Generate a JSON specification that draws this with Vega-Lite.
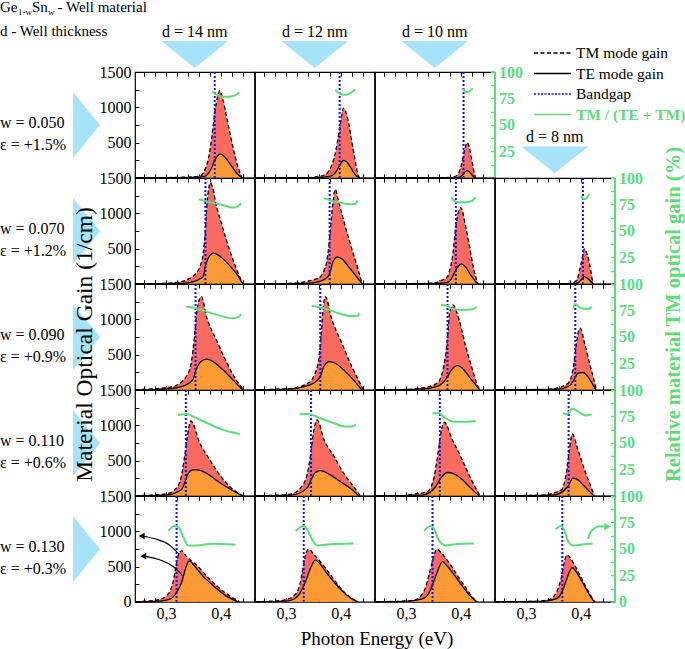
{
"$schema":"https://vega.github.io/schema/vega-lite/v6.json",
"padding":0,
"background":"white",
"config":{
 "font":"Liberation Serif",
 "view":{"stroke":"black","strokeWidth":1.2},
 "text":{"font":"Liberation Serif","color":"black"},
 "axis":{"grid":false,"domain":false,"tickColor":"black","tickWidth":1,"tickSize":-4,"labelPadding":8,"labelFont":"Liberation Serif","labelFontSize":16,"labelColor":"black","labelFlush":false,"labelOverlap":false,"titleFont":"Liberation Serif","titleFontWeight":"normal","titleColor":"black","titleFontSize":19},
 "axisRight":{"domain":true,"domainColor":"#5ddc7b","domainWidth":2,"tickColor":"#5ddc7b","tickWidth":1.5,"labelColor":"#5ddc7b","labelFontWeight":"bold","titleColor":"#5ddc7b","titleFontWeight":"bold"}
},
"datasets":{"c":[
{"w":0.05,"d":14,"k":"TM","e":0.245,"v":0},{"w":0.05,"d":14,"k":"TM","e":0.30,"v":3},{"w":0.05,"d":14,"k":"TM","e":0.33,"v":8},{"w":0.05,"d":14,"k":"TM","e":0.35,"v":15},{"w":0.05,"d":14,"k":"TM","e":0.362,"v":25},{"w":0.05,"d":14,"k":"TM","e":0.371,"v":113},{"w":0.05,"d":14,"k":"TM","e":0.377,"v":255},{"w":0.05,"d":14,"k":"TM","e":0.383,"v":538},{"w":0.05,"d":14,"k":"TM","e":0.389,"v":920},{"w":0.05,"d":14,"k":"TM","e":0.395,"v":1175},{"w":0.05,"d":14,"k":"TM","e":0.398,"v":1235},{"w":0.05,"d":14,"k":"TM","e":0.404,"v":1104},{"w":0.05,"d":14,"k":"TM","e":0.413,"v":774},{"w":0.05,"d":14,"k":"TM","e":0.422,"v":443},{"w":0.05,"d":14,"k":"TM","e":0.431,"v":160},{"w":0.05,"d":14,"k":"TM","e":0.439,"v":0},
{"w":0.05,"d":14,"k":"TE","e":0.245,"v":0},{"w":0.05,"d":14,"k":"TE","e":0.33,"v":2},{"w":0.05,"d":14,"k":"TE","e":0.36,"v":8},{"w":0.05,"d":14,"k":"TE","e":0.371,"v":20},{"w":0.05,"d":14,"k":"TE","e":0.377,"v":60},{"w":0.05,"d":14,"k":"TE","e":0.383,"v":140},{"w":0.05,"d":14,"k":"TE","e":0.389,"v":250},{"w":0.05,"d":14,"k":"TE","e":0.395,"v":320},{"w":0.05,"d":14,"k":"TE","e":0.399,"v":335},{"w":0.05,"d":14,"k":"TE","e":0.404,"v":320},{"w":0.05,"d":14,"k":"TE","e":0.413,"v":240},{"w":0.05,"d":14,"k":"TE","e":0.422,"v":140},{"w":0.05,"d":14,"k":"TE","e":0.431,"v":50},{"w":0.05,"d":14,"k":"TE","e":0.439,"v":0},
{"w":0.05,"d":14,"k":"Eg","e":0.389,"v":0},
{"w":0.05,"d":14,"k":"R","e":0.384,"v":81.5},{"w":0.05,"d":14,"k":"R","e":0.39,"v":79},{"w":0.05,"d":14,"k":"R","e":0.40,"v":77},{"w":0.05,"d":14,"k":"R","e":0.41,"v":76.5},{"w":0.05,"d":14,"k":"R","e":0.42,"v":77},{"w":0.05,"d":14,"k":"R","e":0.43,"v":79},{"w":0.05,"d":14,"k":"R","e":0.434,"v":81},

{"w":0.05,"d":12,"k":"TM","e":0.245,"v":0},{"w":0.05,"d":12,"k":"TM","e":0.33,"v":3},{"w":0.05,"d":12,"k":"TM","e":0.35,"v":8},{"w":0.05,"d":12,"k":"TM","e":0.37,"v":40},{"w":0.05,"d":12,"k":"TM","e":0.38,"v":120},{"w":0.05,"d":12,"k":"TM","e":0.39,"v":350},{"w":0.05,"d":12,"k":"TM","e":0.397,"v":650},{"w":0.05,"d":12,"k":"TM","e":0.402,"v":900},{"w":0.05,"d":12,"k":"TM","e":0.405,"v":986},{"w":0.05,"d":12,"k":"TM","e":0.41,"v":920},{"w":0.05,"d":12,"k":"TM","e":0.415,"v":750},{"w":0.05,"d":12,"k":"TM","e":0.42,"v":520},{"w":0.05,"d":12,"k":"TM","e":0.425,"v":300},{"w":0.05,"d":12,"k":"TM","e":0.43,"v":90},{"w":0.05,"d":12,"k":"TM","e":0.434,"v":0},
{"w":0.05,"d":12,"k":"TE","e":0.245,"v":0},{"w":0.05,"d":12,"k":"TE","e":0.35,"v":2},{"w":0.05,"d":12,"k":"TE","e":0.38,"v":20},{"w":0.05,"d":12,"k":"TE","e":0.39,"v":70},{"w":0.05,"d":12,"k":"TE","e":0.397,"v":160},{"w":0.05,"d":12,"k":"TE","e":0.405,"v":245},{"w":0.05,"d":12,"k":"TE","e":0.41,"v":230},{"w":0.05,"d":12,"k":"TE","e":0.415,"v":180},{"w":0.05,"d":12,"k":"TE","e":0.42,"v":120},{"w":0.05,"d":12,"k":"TE","e":0.425,"v":60},{"w":0.05,"d":12,"k":"TE","e":0.43,"v":15},{"w":0.05,"d":12,"k":"TE","e":0.434,"v":0},
{"w":0.05,"d":12,"k":"Eg","e":0.398,"v":0},
{"w":0.05,"d":12,"k":"R","e":0.39,"v":83},{"w":0.05,"d":12,"k":"R","e":0.397,"v":80},{"w":0.05,"d":12,"k":"R","e":0.405,"v":78.5},{"w":0.05,"d":12,"k":"R","e":0.413,"v":79},{"w":0.05,"d":12,"k":"R","e":0.42,"v":81},{"w":0.05,"d":12,"k":"R","e":0.427,"v":83.5},

{"w":0.05,"d":10,"k":"TM","e":0.245,"v":0},{"w":0.05,"d":10,"k":"TM","e":0.35,"v":2},{"w":0.05,"d":10,"k":"TM","e":0.38,"v":5},{"w":0.05,"d":10,"k":"TM","e":0.39,"v":20},{"w":0.05,"d":10,"k":"TM","e":0.397,"v":80},{"w":0.05,"d":10,"k":"TM","e":0.403,"v":250},{"w":0.05,"d":10,"k":"TM","e":0.408,"v":430},{"w":0.05,"d":10,"k":"TM","e":0.4115,"v":500},{"w":0.05,"d":10,"k":"TM","e":0.415,"v":450},{"w":0.05,"d":10,"k":"TM","e":0.419,"v":300},{"w":0.05,"d":10,"k":"TM","e":0.423,"v":130},{"w":0.05,"d":10,"k":"TM","e":0.427,"v":0},
{"w":0.05,"d":10,"k":"TE","e":0.245,"v":0},{"w":0.05,"d":10,"k":"TE","e":0.39,"v":2},{"w":0.05,"d":10,"k":"TE","e":0.397,"v":5},{"w":0.05,"d":10,"k":"TE","e":0.403,"v":40},{"w":0.05,"d":10,"k":"TE","e":0.408,"v":85},{"w":0.05,"d":10,"k":"TE","e":0.4115,"v":103},{"w":0.05,"d":10,"k":"TE","e":0.415,"v":90},{"w":0.05,"d":10,"k":"TE","e":0.419,"v":55},{"w":0.05,"d":10,"k":"TE","e":0.423,"v":20},{"w":0.05,"d":10,"k":"TE","e":0.427,"v":0},
{"w":0.05,"d":10,"k":"Eg","e":0.405,"v":0},
{"w":0.05,"d":10,"k":"R","e":0.404,"v":84},{"w":0.05,"d":10,"k":"R","e":0.408,"v":81.5},{"w":0.05,"d":10,"k":"R","e":0.413,"v":81},{"w":0.05,"d":10,"k":"R","e":0.418,"v":82.5},{"w":0.05,"d":10,"k":"R","e":0.422,"v":84.5},

{"w":0.07,"d":14,"k":"TM","e":0.245,"v":0},{"w":0.07,"d":14,"k":"TM","e":0.28,"v":3},{"w":0.07,"d":14,"k":"TM","e":0.307,"v":10},{"w":0.07,"d":14,"k":"TM","e":0.33,"v":35},{"w":0.07,"d":14,"k":"TM","e":0.344,"v":80},{"w":0.07,"d":14,"k":"TM","e":0.355,"v":150},{"w":0.07,"d":14,"k":"TM","e":0.362,"v":245},{"w":0.07,"d":14,"k":"TM","e":0.368,"v":434},{"w":0.07,"d":14,"k":"TM","e":0.372,"v":764},{"w":0.07,"d":14,"k":"TM","e":0.375,"v":1142},{"w":0.07,"d":14,"k":"TM","e":0.378,"v":1350},{"w":0.07,"d":14,"k":"TM","e":0.381,"v":1433},{"w":0.07,"d":14,"k":"TM","e":0.385,"v":1370},{"w":0.07,"d":14,"k":"TM","e":0.391,"v":1142},{"w":0.07,"d":14,"k":"TM","e":0.403,"v":811},{"w":0.07,"d":14,"k":"TM","e":0.415,"v":505},{"w":0.07,"d":14,"k":"TM","e":0.428,"v":222},{"w":0.07,"d":14,"k":"TM","e":0.44,"v":0},
{"w":0.07,"d":14,"k":"TE","e":0.245,"v":0},{"w":0.07,"d":14,"k":"TE","e":0.33,"v":5},{"w":0.07,"d":14,"k":"TE","e":0.355,"v":40},{"w":0.07,"d":14,"k":"TE","e":0.362,"v":70},{"w":0.07,"d":14,"k":"TE","e":0.368,"v":103},{"w":0.07,"d":14,"k":"TE","e":0.372,"v":245},{"w":0.07,"d":14,"k":"TE","e":0.377,"v":363},{"w":0.07,"d":14,"k":"TE","e":0.382,"v":415},{"w":0.07,"d":14,"k":"TE","e":0.387,"v":434},{"w":0.07,"d":14,"k":"TE","e":0.395,"v":410},{"w":0.07,"d":14,"k":"TE","e":0.403,"v":363},{"w":0.07,"d":14,"k":"TE","e":0.415,"v":269},{"w":0.07,"d":14,"k":"TE","e":0.428,"v":151},{"w":0.07,"d":14,"k":"TE","e":0.44,"v":0},
{"w":0.07,"d":14,"k":"Eg","e":0.372,"v":0},
{"w":0.07,"d":14,"k":"R","e":0.36,"v":79.9},{"w":0.07,"d":14,"k":"R","e":0.37,"v":78.5},{"w":0.07,"d":14,"k":"R","e":0.378,"v":77.6},{"w":0.07,"d":14,"k":"R","e":0.39,"v":76},{"w":0.07,"d":14,"k":"R","e":0.403,"v":74.5},{"w":0.07,"d":14,"k":"R","e":0.413,"v":73},{"w":0.07,"d":14,"k":"R","e":0.422,"v":72},{"w":0.07,"d":14,"k":"R","e":0.431,"v":73},{"w":0.07,"d":14,"k":"R","e":0.437,"v":76},

{"w":0.07,"d":12,"k":"TM","e":0.245,"v":0},{"w":0.07,"d":12,"k":"TM","e":0.308,"v":5},{"w":0.07,"d":12,"k":"TM","e":0.338,"v":33},{"w":0.07,"d":12,"k":"TM","e":0.352,"v":60},{"w":0.07,"d":12,"k":"TM","e":0.363,"v":103},{"w":0.07,"d":12,"k":"TM","e":0.37,"v":200},{"w":0.07,"d":12,"k":"TM","e":0.375,"v":340},{"w":0.07,"d":12,"k":"TM","e":0.38,"v":670},{"w":0.07,"d":12,"k":"TM","e":0.385,"v":1094},{"w":0.07,"d":12,"k":"TM","e":0.39,"v":1340},{"w":0.07,"d":12,"k":"TM","e":0.395,"v":1200},{"w":0.07,"d":12,"k":"TM","e":0.405,"v":906},{"w":0.07,"d":12,"k":"TM","e":0.417,"v":576},{"w":0.07,"d":12,"k":"TM","e":0.43,"v":245},{"w":0.07,"d":12,"k":"TM","e":0.439,"v":0},
{"w":0.07,"d":12,"k":"TE","e":0.245,"v":0},{"w":0.07,"d":12,"k":"TE","e":0.338,"v":5},{"w":0.07,"d":12,"k":"TE","e":0.36,"v":30},{"w":0.07,"d":12,"k":"TE","e":0.372,"v":70},{"w":0.07,"d":12,"k":"TE","e":0.38,"v":151},{"w":0.07,"d":12,"k":"TE","e":0.386,"v":316},{"w":0.07,"d":12,"k":"TE","e":0.394,"v":378},{"w":0.07,"d":12,"k":"TE","e":0.403,"v":349},{"w":0.07,"d":12,"k":"TE","e":0.414,"v":245},{"w":0.07,"d":12,"k":"TE","e":0.426,"v":127},{"w":0.07,"d":12,"k":"TE","e":0.439,"v":0},
{"w":0.07,"d":12,"k":"Eg","e":0.3797,"v":0},
{"w":0.07,"d":12,"k":"R","e":0.369,"v":80.8},{"w":0.07,"d":12,"k":"R","e":0.38,"v":79},{"w":0.07,"d":12,"k":"R","e":0.39,"v":77.6},{"w":0.07,"d":12,"k":"R","e":0.40,"v":76.5},{"w":0.07,"d":12,"k":"R","e":0.411,"v":75.5},{"w":0.07,"d":12,"k":"R","e":0.423,"v":75.2},{"w":0.07,"d":12,"k":"R","e":0.428,"v":76.5},{"w":0.07,"d":12,"k":"R","e":0.431,"v":78.6},

{"w":0.07,"d":10,"k":"TM","e":0.245,"v":0},{"w":0.07,"d":10,"k":"TM","e":0.33,"v":3},{"w":0.07,"d":10,"k":"TM","e":0.351,"v":10},{"w":0.07,"d":10,"k":"TM","e":0.363,"v":42},{"w":0.07,"d":10,"k":"TM","e":0.376,"v":103},{"w":0.07,"d":10,"k":"TM","e":0.38,"v":200},{"w":0.07,"d":10,"k":"TM","e":0.385,"v":386},{"w":0.07,"d":10,"k":"TM","e":0.391,"v":811},{"w":0.07,"d":10,"k":"TM","e":0.395,"v":1000},{"w":0.07,"d":10,"k":"TM","e":0.40,"v":1080},{"w":0.07,"d":10,"k":"TM","e":0.409,"v":811},{"w":0.07,"d":10,"k":"TM","e":0.417,"v":481},{"w":0.07,"d":10,"k":"TM","e":0.424,"v":198},{"w":0.07,"d":10,"k":"TM","e":0.431,"v":0},
{"w":0.07,"d":10,"k":"TE","e":0.245,"v":0},{"w":0.07,"d":10,"k":"TE","e":0.36,"v":5},{"w":0.07,"d":10,"k":"TE","e":0.376,"v":20},{"w":0.07,"d":10,"k":"TE","e":0.383,"v":70},{"w":0.07,"d":10,"k":"TE","e":0.388,"v":151},{"w":0.07,"d":10,"k":"TE","e":0.395,"v":245},{"w":0.07,"d":10,"k":"TE","e":0.401,"v":283},{"w":0.07,"d":10,"k":"TE","e":0.409,"v":236},{"w":0.07,"d":10,"k":"TE","e":0.418,"v":127},{"w":0.07,"d":10,"k":"TE","e":0.43,"v":0},
{"w":0.07,"d":10,"k":"Eg","e":0.391,"v":0},
{"w":0.07,"d":10,"k":"R","e":0.383,"v":81.8},{"w":0.07,"d":10,"k":"R","e":0.387,"v":79},{"w":0.07,"d":10,"k":"R","e":0.391,"v":77.6},{"w":0.07,"d":10,"k":"R","e":0.40,"v":77},{"w":0.07,"d":10,"k":"R","e":0.406,"v":77},{"w":0.07,"d":10,"k":"R","e":0.415,"v":77.5},{"w":0.07,"d":10,"k":"R","e":0.421,"v":78.3},{"w":0.07,"d":10,"k":"R","e":0.427,"v":81.4},

{"w":0.07,"d":8,"k":"TM","e":0.245,"v":0},{"w":0.07,"d":8,"k":"TM","e":0.37,"v":2},{"w":0.07,"d":8,"k":"TM","e":0.383,"v":10},{"w":0.07,"d":8,"k":"TM","e":0.39,"v":33},{"w":0.07,"d":8,"k":"TM","e":0.395,"v":100},{"w":0.07,"d":8,"k":"TM","e":0.398,"v":198},{"w":0.07,"d":8,"k":"TM","e":0.404,"v":410},{"w":0.07,"d":8,"k":"TM","e":0.4063,"v":495},{"w":0.07,"d":8,"k":"TM","e":0.412,"v":410},{"w":0.07,"d":8,"k":"TM","e":0.418,"v":198},{"w":0.07,"d":8,"k":"TM","e":0.422,"v":0},
{"w":0.07,"d":8,"k":"TE","e":0.245,"v":0},{"w":0.07,"d":8,"k":"TE","e":0.39,"v":3},{"w":0.07,"d":8,"k":"TE","e":0.396,"v":20},{"w":0.07,"d":8,"k":"TE","e":0.401,"v":57},{"w":0.07,"d":8,"k":"TE","e":0.406,"v":103},{"w":0.07,"d":8,"k":"TE","e":0.412,"v":80},{"w":0.07,"d":8,"k":"TE","e":0.42,"v":18},{"w":0.07,"d":8,"k":"TE","e":0.422,"v":0},
{"w":0.07,"d":8,"k":"Eg","e":0.404,"v":0},
{"w":0.07,"d":8,"k":"R","e":0.401,"v":83},{"w":0.07,"d":8,"k":"R","e":0.404,"v":80.5},{"w":0.07,"d":8,"k":"R","e":0.408,"v":80},{"w":0.07,"d":8,"k":"R","e":0.412,"v":82},{"w":0.07,"d":8,"k":"R","e":0.415,"v":85},

{"w":0.09,"d":14,"k":"TM","e":0.245,"v":0},{"w":0.09,"d":14,"k":"TM","e":0.283,"v":18},{"w":0.09,"d":14,"k":"TM","e":0.313,"v":47},{"w":0.09,"d":14,"k":"TM","e":0.337,"v":188},{"w":0.09,"d":14,"k":"TM","e":0.346,"v":377},{"w":0.09,"d":14,"k":"TM","e":0.352,"v":754},{"w":0.09,"d":14,"k":"TM","e":0.356,"v":1085},{"w":0.09,"d":14,"k":"TM","e":0.36,"v":1260},{"w":0.09,"d":14,"k":"TM","e":0.3646,"v":1320},{"w":0.09,"d":14,"k":"TM","e":0.374,"v":1037},{"w":0.09,"d":14,"k":"TM","e":0.392,"v":707},{"w":0.09,"d":14,"k":"TM","e":0.41,"v":400},{"w":0.09,"d":14,"k":"TM","e":0.428,"v":141},{"w":0.09,"d":14,"k":"TM","e":0.442,"v":0},
{"w":0.09,"d":14,"k":"TE","e":0.245,"v":0},{"w":0.09,"d":14,"k":"TE","e":0.30,"v":10},{"w":0.09,"d":14,"k":"TE","e":0.337,"v":70},{"w":0.09,"d":14,"k":"TE","e":0.349,"v":141},{"w":0.09,"d":14,"k":"TE","e":0.355,"v":283},{"w":0.09,"d":14,"k":"TE","e":0.364,"v":400},{"w":0.09,"d":14,"k":"TE","e":0.374,"v":434},{"w":0.09,"d":14,"k":"TE","e":0.386,"v":400},{"w":0.09,"d":14,"k":"TE","e":0.404,"v":283},{"w":0.09,"d":14,"k":"TE","e":0.422,"v":141},{"w":0.09,"d":14,"k":"TE","e":0.44,"v":0},
{"w":0.09,"d":14,"k":"Eg","e":0.354,"v":0},
{"w":0.09,"d":14,"k":"R","e":0.337,"v":78.6},{"w":0.09,"d":14,"k":"R","e":0.355,"v":77.1},{"w":0.09,"d":14,"k":"R","e":0.374,"v":73.9},{"w":0.09,"d":14,"k":"R","e":0.398,"v":70.1},{"w":0.09,"d":14,"k":"R","e":0.422,"v":67.6},{"w":0.09,"d":14,"k":"R","e":0.434,"v":69.2},{"w":0.09,"d":14,"k":"R","e":0.437,"v":71.7},

{"w":0.09,"d":12,"k":"TM","e":0.245,"v":0},{"w":0.09,"d":12,"k":"TM","e":0.26,"v":2},{"w":0.09,"d":12,"k":"TM","e":0.308,"v":18},{"w":0.09,"d":12,"k":"TM","e":0.3436,"v":110},{"w":0.09,"d":12,"k":"TM","e":0.3505,"v":188},{"w":0.09,"d":12,"k":"TM","e":0.3596,"v":424},{"w":0.09,"d":12,"k":"TM","e":0.364,"v":754},{"w":0.09,"d":12,"k":"TM","e":0.3676,"v":1132},{"w":0.09,"d":12,"k":"TM","e":0.3718,"v":1320},{"w":0.09,"d":12,"k":"TM","e":0.384,"v":990},{"w":0.09,"d":12,"k":"TM","e":0.402,"v":660},{"w":0.09,"d":12,"k":"TM","e":0.42,"v":330},{"w":0.09,"d":12,"k":"TM","e":0.432,"v":141},{"w":0.09,"d":12,"k":"TM","e":0.441,"v":0},
{"w":0.09,"d":12,"k":"TE","e":0.245,"v":0},{"w":0.09,"d":12,"k":"TE","e":0.30,"v":8},{"w":0.09,"d":12,"k":"TE","e":0.3436,"v":70},{"w":0.09,"d":12,"k":"TE","e":0.3627,"v":188},{"w":0.09,"d":12,"k":"TE","e":0.369,"v":330},{"w":0.09,"d":12,"k":"TE","e":0.3796,"v":400},{"w":0.09,"d":12,"k":"TE","e":0.39,"v":377},{"w":0.09,"d":12,"k":"TE","e":0.405,"v":283},{"w":0.09,"d":12,"k":"TE","e":0.423,"v":141},{"w":0.09,"d":12,"k":"TE","e":0.438,"v":0},
{"w":0.09,"d":12,"k":"Eg","e":0.3627,"v":0},
{"w":0.09,"d":12,"k":"R","e":0.347,"v":79.2},{"w":0.09,"d":12,"k":"R","e":0.369,"v":77.1},{"w":0.09,"d":12,"k":"R","e":0.393,"v":72.9},{"w":0.09,"d":12,"k":"R","e":0.417,"v":69.8},{"w":0.09,"d":12,"k":"R","e":0.43,"v":69.8},{"w":0.09,"d":12,"k":"R","e":0.434,"v":72.4},

{"w":0.09,"d":10,"k":"TM","e":0.245,"v":0},{"w":0.09,"d":10,"k":"TM","e":0.29,"v":2},{"w":0.09,"d":10,"k":"TM","e":0.327,"v":24},{"w":0.09,"d":10,"k":"TM","e":0.357,"v":94},{"w":0.09,"d":10,"k":"TM","e":0.369,"v":330},{"w":0.09,"d":10,"k":"TM","e":0.376,"v":754},{"w":0.09,"d":10,"k":"TM","e":0.3795,"v":1085},{"w":0.09,"d":10,"k":"TM","e":0.3858,"v":1203},{"w":0.09,"d":10,"k":"TM","e":0.397,"v":990},{"w":0.09,"d":10,"k":"TM","e":0.409,"v":613},{"w":0.09,"d":10,"k":"TM","e":0.4214,"v":283},{"w":0.09,"d":10,"k":"TM","e":0.43,"v":70},{"w":0.09,"d":10,"k":"TM","e":0.435,"v":0},
{"w":0.09,"d":10,"k":"TE","e":0.245,"v":0},{"w":0.09,"d":10,"k":"TE","e":0.33,"v":10},{"w":0.09,"d":10,"k":"TE","e":0.357,"v":47},{"w":0.09,"d":10,"k":"TE","e":0.376,"v":188},{"w":0.09,"d":10,"k":"TE","e":0.383,"v":283},{"w":0.09,"d":10,"k":"TE","e":0.394,"v":344},{"w":0.09,"d":10,"k":"TE","e":0.403,"v":307},{"w":0.09,"d":10,"k":"TE","e":0.415,"v":188},{"w":0.09,"d":10,"k":"TE","e":0.427,"v":70},{"w":0.09,"d":10,"k":"TE","e":0.434,"v":0},
{"w":0.09,"d":10,"k":"Eg","e":0.3758,"v":0},
{"w":0.09,"d":10,"k":"R","e":0.364,"v":80.2},{"w":0.09,"d":10,"k":"R","e":0.376,"v":79.2},{"w":0.09,"d":10,"k":"R","e":0.385,"v":76.1},{"w":0.09,"d":10,"k":"R","e":0.403,"v":75.5},{"w":0.09,"d":10,"k":"R","e":0.4214,"v":76.1},{"w":0.09,"d":10,"k":"R","e":0.429,"v":78.6},

{"w":0.09,"d":8,"k":"TM","e":0.245,"v":0},{"w":0.09,"d":8,"k":"TM","e":0.328,"v":2},{"w":0.09,"d":8,"k":"TM","e":0.3524,"v":18},{"w":0.09,"d":8,"k":"TM","e":0.3767,"v":94},{"w":0.09,"d":8,"k":"TM","e":0.3858,"v":283},{"w":0.09,"d":8,"k":"TM","e":0.3905,"v":566},{"w":0.09,"d":8,"k":"TM","e":0.395,"v":802},{"w":0.09,"d":8,"k":"TM","e":0.399,"v":873},{"w":0.09,"d":8,"k":"TM","e":0.407,"v":660},{"w":0.09,"d":8,"k":"TM","e":0.416,"v":377},{"w":0.09,"d":8,"k":"TM","e":0.424,"v":141},{"w":0.09,"d":8,"k":"TM","e":0.4282,"v":0},
{"w":0.09,"d":8,"k":"TE","e":0.245,"v":0},{"w":0.09,"d":8,"k":"TE","e":0.36,"v":10},{"w":0.09,"d":8,"k":"TE","e":0.38,"v":60},{"w":0.09,"d":8,"k":"TE","e":0.3876,"v":141},{"w":0.09,"d":8,"k":"TE","e":0.395,"v":236},{"w":0.09,"d":8,"k":"TE","e":0.404,"v":245},{"w":0.09,"d":8,"k":"TE","e":0.413,"v":188},{"w":0.09,"d":8,"k":"TE","e":0.4222,"v":70},{"w":0.09,"d":8,"k":"TE","e":0.427,"v":0},
{"w":0.09,"d":8,"k":"Eg","e":0.39,"v":0},
{"w":0.09,"d":8,"k":"R","e":0.386,"v":77},{"w":0.09,"d":8,"k":"R","e":0.39,"v":81},{"w":0.09,"d":8,"k":"R","e":0.395,"v":79},{"w":0.09,"d":8,"k":"R","e":0.405,"v":76.5},{"w":0.09,"d":8,"k":"R","e":0.415,"v":76.5},{"w":0.09,"d":8,"k":"R","e":0.42,"v":78.5},

{"w":0.11,"d":14,"k":"TM","e":0.245,"v":0},{"w":0.11,"d":14,"k":"TM","e":0.271,"v":10},{"w":0.11,"d":14,"k":"TM","e":0.301,"v":28},{"w":0.11,"d":14,"k":"TM","e":0.319,"v":109},{"w":0.11,"d":14,"k":"TM","e":0.328,"v":273},{"w":0.11,"d":14,"k":"TM","e":0.334,"v":556},{"w":0.11,"d":14,"k":"TM","e":0.339,"v":839},{"w":0.11,"d":14,"k":"TM","e":0.3454,"v":1061},{"w":0.11,"d":14,"k":"TM","e":0.362,"v":746},{"w":0.11,"d":14,"k":"TM","e":0.38,"v":509},{"w":0.11,"d":14,"k":"TM","e":0.398,"v":297},{"w":0.11,"d":14,"k":"TM","e":0.416,"v":132},{"w":0.11,"d":14,"k":"TM","e":0.435,"v":24},{"w":0.11,"d":14,"k":"TM","e":0.441,"v":0},
{"w":0.11,"d":14,"k":"TE","e":0.245,"v":0},{"w":0.11,"d":14,"k":"TE","e":0.30,"v":10},{"w":0.11,"d":14,"k":"TE","e":0.328,"v":85},{"w":0.11,"d":14,"k":"TE","e":0.334,"v":180},{"w":0.11,"d":14,"k":"TE","e":0.34,"v":307},{"w":0.11,"d":14,"k":"TE","e":0.349,"v":368},{"w":0.11,"d":14,"k":"TE","e":0.358,"v":368},{"w":0.11,"d":14,"k":"TE","e":0.3736,"v":321},{"w":0.11,"d":14,"k":"TE","e":0.391,"v":226},{"w":0.11,"d":14,"k":"TE","e":0.409,"v":132},{"w":0.11,"d":14,"k":"TE","e":0.428,"v":47},{"w":0.11,"d":14,"k":"TE","e":0.439,"v":0},
{"w":0.11,"d":14,"k":"Eg","e":0.3363,"v":0},
{"w":0.11,"d":14,"k":"R","e":0.322,"v":76.4},{"w":0.11,"d":14,"k":"R","e":0.3375,"v":77.4},{"w":0.11,"d":14,"k":"R","e":0.356,"v":73.3},{"w":0.11,"d":14,"k":"R","e":0.38,"v":67.6},{"w":0.11,"d":14,"k":"R","e":0.4042,"v":62.3},{"w":0.11,"d":14,"k":"R","e":0.42,"v":60},{"w":0.11,"d":14,"k":"R","e":0.435,"v":58.2},

{"w":0.11,"d":12,"k":"TM","e":0.245,"v":0},{"w":0.11,"d":12,"k":"TM","e":0.28,"v":8},{"w":0.11,"d":12,"k":"TM","e":0.308,"v":24},{"w":0.11,"d":12,"k":"TM","e":0.3263,"v":109},{"w":0.11,"d":12,"k":"TM","e":0.3385,"v":297},{"w":0.11,"d":12,"k":"TM","e":0.3445,"v":556},{"w":0.11,"d":12,"k":"TM","e":0.35,"v":887},{"w":0.11,"d":12,"k":"TM","e":0.3567,"v":1075},{"w":0.11,"d":12,"k":"TM","e":0.3697,"v":792},{"w":0.11,"d":12,"k":"TM","e":0.388,"v":556},{"w":0.11,"d":12,"k":"TM","e":0.4051,"v":321},{"w":0.11,"d":12,"k":"TM","e":0.4233,"v":132},{"w":0.11,"d":12,"k":"TM","e":0.4355,"v":0},
{"w":0.11,"d":12,"k":"TE","e":0.245,"v":0},{"w":0.11,"d":12,"k":"TE","e":0.31,"v":10},{"w":0.11,"d":12,"k":"TE","e":0.3385,"v":109},{"w":0.11,"d":12,"k":"TE","e":0.3458,"v":226},{"w":0.11,"d":12,"k":"TE","e":0.3536,"v":330},{"w":0.11,"d":12,"k":"TE","e":0.3627,"v":358},{"w":0.11,"d":12,"k":"TE","e":0.381,"v":297},{"w":0.11,"d":12,"k":"TE","e":0.399,"v":203},{"w":0.11,"d":12,"k":"TE","e":0.417,"v":109},{"w":0.11,"d":12,"k":"TE","e":0.4324,"v":0},
{"w":0.11,"d":12,"k":"Eg","e":0.3458,"v":0},
{"w":0.11,"d":12,"k":"R","e":0.3253,"v":77.1},{"w":0.11,"d":12,"k":"R","e":0.3405,"v":77.4},{"w":0.11,"d":12,"k":"R","e":0.3627,"v":73.3},{"w":0.11,"d":12,"k":"R","e":0.388,"v":68.6},{"w":0.11,"d":12,"k":"R","e":0.4094,"v":65.4},{"w":0.11,"d":12,"k":"R","e":0.4215,"v":65.4},{"w":0.11,"d":12,"k":"R","e":0.4276,"v":67.6},

{"w":0.11,"d":10,"k":"TM","e":0.245,"v":0},{"w":0.11,"d":10,"k":"TM","e":0.29,"v":2},{"w":0.11,"d":10,"k":"TM","e":0.3151,"v":24},{"w":0.11,"d":10,"k":"TM","e":0.3394,"v":61},{"w":0.11,"d":10,"k":"TM","e":0.3514,"v":273},{"w":0.11,"d":10,"k":"TM","e":0.3585,"v":604},{"w":0.11,"d":10,"k":"TM","e":0.3636,"v":887},{"w":0.11,"d":10,"k":"TM","e":0.3698,"v":1043},{"w":0.11,"d":10,"k":"TM","e":0.3849,"v":792},{"w":0.11,"d":10,"k":"TM","e":0.3999,"v":556},{"w":0.11,"d":10,"k":"TM","e":0.4151,"v":297},{"w":0.11,"d":10,"k":"TM","e":0.4272,"v":109},{"w":0.11,"d":10,"k":"TM","e":0.4351,"v":0},
{"w":0.11,"d":10,"k":"TE","e":0.245,"v":0},{"w":0.11,"d":10,"k":"TE","e":0.33,"v":10},{"w":0.11,"d":10,"k":"TE","e":0.3545,"v":132},{"w":0.11,"d":10,"k":"TE","e":0.3636,"v":250},{"w":0.11,"d":10,"k":"TE","e":0.3758,"v":330},{"w":0.11,"d":10,"k":"TE","e":0.3878,"v":311},{"w":0.11,"d":10,"k":"TE","e":0.403,"v":226},{"w":0.11,"d":10,"k":"TE","e":0.4182,"v":109},{"w":0.11,"d":10,"k":"TE","e":0.4333,"v":0},
{"w":0.11,"d":10,"k":"Eg","e":0.3618,"v":0},
{"w":0.11,"d":10,"k":"R","e":0.3485,"v":78},{"w":0.11,"d":10,"k":"R","e":0.3605,"v":78},{"w":0.11,"d":10,"k":"R","e":0.3696,"v":74.2},{"w":0.11,"d":10,"k":"R","e":0.3878,"v":70.1},{"w":0.11,"d":10,"k":"R","e":0.4121,"v":70.1},{"w":0.11,"d":10,"k":"R","e":0.4272,"v":70.8},

{"w":0.11,"d":8,"k":"TM","e":0.245,"v":0},{"w":0.11,"d":8,"k":"TM","e":0.3282,"v":10},{"w":0.11,"d":8,"k":"TM","e":0.3645,"v":85},{"w":0.11,"d":8,"k":"TM","e":0.3736,"v":321},{"w":0.11,"d":8,"k":"TM","e":0.3785,"v":604},{"w":0.11,"d":8,"k":"TM","e":0.3845,"v":877},{"w":0.11,"d":8,"k":"TM","e":0.395,"v":651},{"w":0.11,"d":8,"k":"TM","e":0.4069,"v":368},{"w":0.11,"d":8,"k":"TM","e":0.416,"v":180},{"w":0.11,"d":8,"k":"TM","e":0.4251,"v":0},
{"w":0.11,"d":8,"k":"TE","e":0.245,"v":0},{"w":0.11,"d":8,"k":"TE","e":0.35,"v":10},{"w":0.11,"d":8,"k":"TE","e":0.3767,"v":132},{"w":0.11,"d":8,"k":"TE","e":0.3858,"v":250},{"w":0.11,"d":8,"k":"TE","e":0.395,"v":226},{"w":0.11,"d":8,"k":"TE","e":0.404,"v":156},{"w":0.11,"d":8,"k":"TE","e":0.416,"v":61},{"w":0.11,"d":8,"k":"TE","e":0.4239,"v":0},
{"w":0.11,"d":8,"k":"Eg","e":0.3778,"v":0},
{"w":0.11,"d":8,"k":"R","e":0.3676,"v":78},{"w":0.11,"d":8,"k":"R","e":0.375,"v":77},{"w":0.11,"d":8,"k":"R","e":0.38,"v":80},{"w":0.11,"d":8,"k":"R","e":0.3845,"v":82.5},{"w":0.11,"d":8,"k":"R","e":0.395,"v":79.5},{"w":0.11,"d":8,"k":"R","e":0.41,"v":76},{"w":0.11,"d":8,"k":"R","e":0.42,"v":77},

{"w":0.13,"d":14,"k":"TM","e":0.245,"v":0},{"w":0.13,"d":14,"k":"TM","e":0.26,"v":8},{"w":0.13,"d":14,"k":"TM","e":0.283,"v":24},{"w":0.13,"d":14,"k":"TM","e":0.301,"v":85},{"w":0.13,"d":14,"k":"TM","e":0.312,"v":250},{"w":0.13,"d":14,"k":"TM","e":0.318,"v":485},{"w":0.13,"d":14,"k":"TM","e":0.3222,"v":651},{"w":0.13,"d":14,"k":"TM","e":0.3285,"v":722},{"w":0.13,"d":14,"k":"TM","e":0.3376,"v":640},{"w":0.13,"d":14,"k":"TM","e":0.3558,"v":520},{"w":0.13,"d":14,"k":"TM","e":0.38,"v":320},{"w":0.13,"d":14,"k":"TM","e":0.4042,"v":150},{"w":0.13,"d":14,"k":"TM","e":0.4285,"v":25},{"w":0.13,"d":14,"k":"TM","e":0.4345,"v":0},
{"w":0.13,"d":14,"k":"TE","e":0.245,"v":0},{"w":0.13,"d":14,"k":"TE","e":0.29,"v":10},{"w":0.13,"d":14,"k":"TE","e":0.3073,"v":38},{"w":0.13,"d":14,"k":"TE","e":0.3194,"v":132},{"w":0.13,"d":14,"k":"TE","e":0.3285,"v":273},{"w":0.13,"d":14,"k":"TE","e":0.3364,"v":485},{"w":0.13,"d":14,"k":"TE","e":0.3424,"v":580},{"w":0.13,"d":14,"k":"TE","e":0.3527,"v":500},{"w":0.13,"d":14,"k":"TE","e":0.3679,"v":360},{"w":0.13,"d":14,"k":"TE","e":0.386,"v":230},{"w":0.13,"d":14,"k":"TE","e":0.4103,"v":80},{"w":0.13,"d":14,"k":"TE","e":0.4315,"v":0},
{"w":0.13,"d":14,"k":"Eg","e":0.3194,"v":0},
{"w":0.13,"d":14,"k":"R","e":0.3042,"v":67},{"w":0.13,"d":14,"k":"R","e":0.3164,"v":71.7},{"w":0.13,"d":14,"k":"R","e":0.3224,"v":70.8},{"w":0.13,"d":14,"k":"R","e":0.3315,"v":61.3},{"w":0.13,"d":14,"k":"R","e":0.3406,"v":53.3},{"w":0.13,"d":14,"k":"R","e":0.3558,"v":53.3},{"w":0.13,"d":14,"k":"R","e":0.386,"v":54.9},{"w":0.13,"d":14,"k":"R","e":0.4164,"v":54.3},{"w":0.13,"d":14,"k":"R","e":0.4273,"v":54},
{"w":0.13,"d":14,"k":"A1","e":0.3242,"v":672},{"w":0.13,"d":14,"k":"A1","e":0.3072,"v":800},{"w":0.13,"d":14,"k":"A1","e":0.283,"v":886},{"w":0.13,"d":14,"k":"A1","e":0.2558,"v":933},
{"w":0.13,"d":14,"k":"A2","e":0.3303,"v":372},{"w":0.13,"d":14,"k":"A2","e":0.3133,"v":500},{"w":0.13,"d":14,"k":"A2","e":0.292,"v":586},{"w":0.13,"d":14,"k":"A2","e":0.2588,"v":647},
{"w":0.13,"d":14,"k":"AH","e":0.2558,"v":933},{"w":0.13,"d":14,"k":"AH","e":0.2588,"v":647},

{"w":0.13,"d":12,"k":"TM","e":0.245,"v":0},{"w":0.13,"d":12,"k":"TM","e":0.27,"v":8},{"w":0.13,"d":12,"k":"TM","e":0.296,"v":24},{"w":0.13,"d":12,"k":"TM","e":0.3146,"v":85},{"w":0.13,"d":12,"k":"TM","e":0.3255,"v":250},{"w":0.13,"d":12,"k":"TM","e":0.3312,"v":485},{"w":0.13,"d":12,"k":"TM","e":0.3354,"v":651},{"w":0.13,"d":12,"k":"TM","e":0.3415,"v":745},{"w":0.13,"d":12,"k":"TM","e":0.352,"v":660},{"w":0.13,"d":12,"k":"TM","e":0.37,"v":500},{"w":0.13,"d":12,"k":"TM","e":0.39,"v":290},{"w":0.13,"d":12,"k":"TM","e":0.41,"v":110},{"w":0.13,"d":12,"k":"TM","e":0.425,"v":25},{"w":0.13,"d":12,"k":"TM","e":0.4324,"v":0},
{"w":0.13,"d":12,"k":"TE","e":0.245,"v":0},{"w":0.13,"d":12,"k":"TE","e":0.30,"v":10},{"w":0.13,"d":12,"k":"TE","e":0.315,"v":40},{"w":0.13,"d":12,"k":"TE","e":0.3255,"v":120},{"w":0.13,"d":12,"k":"TE","e":0.3354,"v":280},{"w":0.13,"d":12,"k":"TE","e":0.345,"v":480},{"w":0.13,"d":12,"k":"TE","e":0.3536,"v":590},{"w":0.13,"d":12,"k":"TE","e":0.362,"v":540},{"w":0.13,"d":12,"k":"TE","e":0.375,"v":400},{"w":0.13,"d":12,"k":"TE","e":0.39,"v":260},{"w":0.13,"d":12,"k":"TE","e":0.41,"v":100},{"w":0.13,"d":12,"k":"TE","e":0.425,"v":20},{"w":0.13,"d":12,"k":"TE","e":0.432,"v":0},
{"w":0.13,"d":12,"k":"Eg","e":0.3324,"v":0},
{"w":0.13,"d":12,"k":"R","e":0.3179,"v":67},{"w":0.13,"d":12,"k":"R","e":0.3324,"v":71.7},{"w":0.13,"d":12,"k":"R","e":0.3385,"v":68.6},{"w":0.13,"d":12,"k":"R","e":0.3476,"v":59.2},{"w":0.13,"d":12,"k":"R","e":0.3567,"v":53.3},{"w":0.13,"d":12,"k":"R","e":0.381,"v":54.3},{"w":0.13,"d":12,"k":"R","e":0.4233,"v":55},

{"w":0.13,"d":10,"k":"TM","e":0.245,"v":0},{"w":0.13,"d":10,"k":"TM","e":0.29,"v":8},{"w":0.13,"d":10,"k":"TM","e":0.3151,"v":24},{"w":0.13,"d":10,"k":"TM","e":0.3333,"v":156},{"w":0.13,"d":10,"k":"TM","e":0.3424,"v":392},{"w":0.13,"d":10,"k":"TM","e":0.3485,"v":580},{"w":0.13,"d":10,"k":"TM","e":0.3563,"v":745},{"w":0.13,"d":10,"k":"TM","e":0.366,"v":680},{"w":0.13,"d":10,"k":"TM","e":0.38,"v":540},{"w":0.13,"d":10,"k":"TM","e":0.395,"v":360},{"w":0.13,"d":10,"k":"TM","e":0.41,"v":190},{"w":0.13,"d":10,"k":"TM","e":0.422,"v":60},{"w":0.13,"d":10,"k":"TM","e":0.4303,"v":0},
{"w":0.13,"d":10,"k":"TE","e":0.245,"v":0},{"w":0.13,"d":10,"k":"TE","e":0.30,"v":5},{"w":0.13,"d":10,"k":"TE","e":0.33,"v":40},{"w":0.13,"d":10,"k":"TE","e":0.34,"v":100},{"w":0.13,"d":10,"k":"TE","e":0.349,"v":250},{"w":0.13,"d":10,"k":"TE","e":0.357,"v":420},{"w":0.13,"d":10,"k":"TE","e":0.3667,"v":570},{"w":0.13,"d":10,"k":"TE","e":0.375,"v":510},{"w":0.13,"d":10,"k":"TE","e":0.39,"v":360},{"w":0.13,"d":10,"k":"TE","e":0.405,"v":200},{"w":0.13,"d":10,"k":"TE","e":0.42,"v":60},{"w":0.13,"d":10,"k":"TE","e":0.429,"v":0},
{"w":0.13,"d":10,"k":"Eg","e":0.3485,"v":0},
{"w":0.13,"d":10,"k":"R","e":0.3333,"v":67},{"w":0.13,"d":10,"k":"R","e":0.3454,"v":71.7},{"w":0.13,"d":10,"k":"R","e":0.3514,"v":68.6},{"w":0.13,"d":10,"k":"R","e":0.3605,"v":57.5},{"w":0.13,"d":10,"k":"R","e":0.3727,"v":53.3},{"w":0.13,"d":10,"k":"R","e":0.40,"v":54.9},{"w":0.13,"d":10,"k":"R","e":0.4242,"v":55},

{"w":0.13,"d":8,"k":"TM","e":0.245,"v":0},{"w":0.13,"d":8,"k":"TM","e":0.31,"v":5},{"w":0.13,"d":8,"k":"TM","e":0.3403,"v":24},{"w":0.13,"d":8,"k":"TM","e":0.3554,"v":132},{"w":0.13,"d":8,"k":"TM","e":0.3645,"v":344},{"w":0.13,"d":8,"k":"TM","e":0.3706,"v":580},{"w":0.13,"d":8,"k":"TM","e":0.3748,"v":665},{"w":0.13,"d":8,"k":"TM","e":0.385,"v":570},{"w":0.13,"d":8,"k":"TM","e":0.395,"v":430},{"w":0.13,"d":8,"k":"TM","e":0.405,"v":280},{"w":0.13,"d":8,"k":"TM","e":0.415,"v":130},{"w":0.13,"d":8,"k":"TM","e":0.421,"v":50},{"w":0.13,"d":8,"k":"TM","e":0.4253,"v":0},
{"w":0.13,"d":8,"k":"TE","e":0.245,"v":0},{"w":0.13,"d":8,"k":"TE","e":0.33,"v":5},{"w":0.13,"d":8,"k":"TE","e":0.355,"v":40},{"w":0.13,"d":8,"k":"TE","e":0.365,"v":130},{"w":0.13,"d":8,"k":"TE","e":0.372,"v":270},{"w":0.13,"d":8,"k":"TE","e":0.378,"v":400},{"w":0.13,"d":8,"k":"TE","e":0.3845,"v":485},{"w":0.13,"d":8,"k":"TE","e":0.392,"v":420},{"w":0.13,"d":8,"k":"TE","e":0.402,"v":290},{"w":0.13,"d":8,"k":"TE","e":0.412,"v":150},{"w":0.13,"d":8,"k":"TE","e":0.42,"v":50},{"w":0.13,"d":8,"k":"TE","e":0.425,"v":0},
{"w":0.13,"d":8,"k":"Eg","e":0.3663,"v":0},
{"w":0.13,"d":8,"k":"R","e":0.3542,"v":68.6},{"w":0.13,"d":8,"k":"R","e":0.3645,"v":71.7},{"w":0.13,"d":8,"k":"R","e":0.3706,"v":67},{"w":0.13,"d":8,"k":"R","e":0.3767,"v":57.5},{"w":0.13,"d":8,"k":"R","e":0.3858,"v":53.3},{"w":0.13,"d":8,"k":"R","e":0.4069,"v":54.3},{"w":0.13,"d":8,"k":"R","e":0.422,"v":54.9},
{"w":0.13,"d":8,"k":"GA","e":0.413,"v":59.7},{"w":0.13,"d":8,"k":"GA","e":0.417,"v":65},{"w":0.13,"d":8,"k":"GA","e":0.425,"v":69.5},{"w":0.13,"d":8,"k":"GA","e":0.435,"v":71.5},{"w":0.13,"d":8,"k":"GA","e":0.447,"v":71},
{"w":0.13,"d":8,"k":"GH","e":0.449,"v":71}
]},
"columns":5,"spacing":0,"bounds":"flush","align":"each",
"concat":[
{"width":135,"height":72,"view":{"stroke":null},"data":{"values":[{"a":"Ge","b":"1-w","c":"Sn","s":"w","m":" - Well material","l":"d - Well thickness"}]},"layer":[
 {"mark":{"type":"text","align":"left","baseline":"alphabetic","dx":-67.5,"dy":-24,"fontSize":15},"encoding":{"text":{"field":"a"}}},
 {"mark":{"type":"text","align":"left","baseline":"alphabetic","dx":-49.5,"dy":-21,"fontSize":9},"encoding":{"text":{"field":"b"}}},
 {"mark":{"type":"text","align":"left","baseline":"alphabetic","dx":-35.5,"dy":-24,"fontSize":15},"encoding":{"text":{"field":"c"}}},
 {"mark":{"type":"text","align":"left","baseline":"alphabetic","dx":-19.5,"dy":-21,"fontSize":9},"encoding":{"text":{"field":"s"}}},
 {"mark":{"type":"text","align":"left","baseline":"alphabetic","dx":-10,"dy":-24,"fontSize":15},"encoding":{"text":{"field":"m"}}},
 {"mark":{"type":"text","align":"left","baseline":"alphabetic","dx":-67.5,"dy":0,"fontSize":15},"encoding":{"text":{"field":"l"}}}
]},
{"width":119.5,"height":72,"view":{"stroke":null},"data":{"values":[{"t":"d = 14 nm"}]},"layer":[
 {"mark":{"type":"point","shape":"M -1 -0.4 L 1 -0.4 L 0 0.4 Z","size":4489,"filled":true,"color":"#a6e2f8","opacity":1,"strokeWidth":0,"yOffset":18.5}},
 {"mark":{"type":"text","baseline":"middle","dy":-4,"fontSize":16},"encoding":{"text":{"field":"t"}}}
]},
{"width":119.5,"height":72,"view":{"stroke":null},"data":{"values":[{"t":"d = 12 nm"}]},"layer":[
 {"mark":{"type":"point","shape":"M -1 -0.4 L 1 -0.4 L 0 0.4 Z","size":4489,"filled":true,"color":"#a6e2f8","opacity":1,"strokeWidth":0,"yOffset":18.5}},
 {"mark":{"type":"text","baseline":"middle","dy":-4,"fontSize":16},"encoding":{"text":{"field":"t"}}}
]},
{"width":119.5,"height":72,"view":{"stroke":null},"data":{"values":[{"t":"d = 10 nm"}]},"layer":[
 {"mark":{"type":"point","shape":"M -1 -0.4 L 1 -0.4 L 0 0.4 Z","size":4489,"filled":true,"color":"#a6e2f8","opacity":1,"strokeWidth":0,"yOffset":18.5}},
 {"mark":{"type":"text","baseline":"middle","dy":-4,"fontSize":16},"encoding":{"text":{"field":"t"}}}
]},
{"width":119.5,"height":72,"view":{"stroke":null},"data":{"values":[{"s":"TM mode gain"},{"s":"TE mode gain"},{"s":"Bandgap"},{"s":"TM / (TE + TM)"}]},
 "mark":{"type":"line"},
 "encoding":{
  "color":{"field":"s","type":"nominal","scale":{"domain":["TM mode gain","TE mode gain","Bandgap","TM / (TE + TM)"],"range":["black","black","#1010ff","#5ddc7b"]},"legend":{"orient":"none","legendX":533,"legendY":45,"title":null,"symbolType":"stroke","symbolSize":1370,"symbolStrokeWidth":1.6,"clipHeight":16,"rowPadding":3.5,"labelOffset":4,"padding":0,"labelFont":"Liberation Serif","labelFontSize":15.5,"labelColor":{"expr":"datum.label=='TM / (TE + TM)'?'#5ddc7b':'black'"},"labelFontWeight":{"expr":"datum.label=='TM / (TE + TM)'?'bold':'normal'"}}},
  "strokeDash":{"field":"s","type":"nominal","scale":{"domain":["TM mode gain","TE mode gain","Bandgap","TM / (TE + TM)"],"range":[[4,2.5],[1,0],[2,1.5],[1,0]]},"legend":{"orient":"none","legendX":533,"legendY":45,"title":null,"symbolType":"stroke","symbolSize":1370,"symbolStrokeWidth":1.6,"clipHeight":16,"rowPadding":3.5,"labelOffset":4,"padding":0,"labelFont":"Liberation Serif","labelFontSize":15.5,"labelColor":{"expr":"datum.label=='TM / (TE + TM)'?'#5ddc7b':'black'"},"labelFontWeight":{"expr":"datum.label=='TM / (TE + TM)'?'bold':'normal'"}}}
 }
},

{"width":135,"height":105.8,"view":{"stroke":null},"data":{"values":[{"t":"w = 0.050\nε = +1.5%"}]},"layer":[
 {"mark":{"type":"point","shape":"M -0.41 -1 L 0.41 0 L -0.41 1 Z","size":4356,"filled":true,"color":"#a6e2f8","opacity":1,"strokeWidth":0,"xOffset":19}},
 {"mark":{"type":"text","align":"left","baseline":"middle","dx":-67.5,"dy":-1.5,"fontSize":16,"lineBreak":"\n","lineHeight":22},"encoding":{"text":{"field":"t"}}}
]},
{"width":119.5,"height":105.8,"data":{"name":"c"},"transform":[{"filter":"datum.w==0.05 && datum.d==14"}],"layer":[
 {"transform":[{"filter":"datum.k=='TM'"}],"mark":{"type":"area","color":"#fa6a5e","interpolate":"monotone"},"encoding":{"x":{"field":"e","type":"quantitative","scale":{"domain":[0.2436,0.4615]},"axis":{"orient":"bottom","values":[0.26,0.28,0.3,0.32,0.34,0.36,0.38,0.4,0.42,0.44,0.46],"labels":false,"title":null}},"y":{"field":"v","type":"quantitative","scale":{"domain":[0,1500]},"axis":{"values":[0,250,500,750,1000,1250,1500],"labelExpr":"datum.value%500==0&&datum.value>0?''+datum.value:''","title":null}}}},
 {"transform":[{"filter":"datum.k=='TE'"}],"mark":{"type":"area","color":"#fc9b35","interpolate":"monotone"},"encoding":{"x":{"field":"e","type":"quantitative","scale":{"domain":[0.2436,0.4615]},"axis":{"orient":"top","values":[0.26,0.28,0.3,0.32,0.34,0.36,0.38,0.4,0.42,0.44,0.46],"labels":false,"title":null}},"y":{"field":"v","type":"quantitative","scale":{"domain":[0,1500]},"axis":null}}},
 {"transform":[{"filter":"datum.k=='TM'"}],"mark":{"type":"line","color":"black","strokeWidth":1.3,"strokeDash":[4,2.5],"interpolate":"monotone"},"encoding":{"x":{"field":"e","type":"quantitative","scale":{"domain":[0.2436,0.4615]},"axis":null},"y":{"field":"v","type":"quantitative","scale":{"domain":[0,1500]},"axis":null}}},
 {"transform":[{"filter":"datum.k=='TE'"}],"mark":{"type":"line","color":"black","strokeWidth":1.3,"interpolate":"monotone"},"encoding":{"x":{"field":"e","type":"quantitative","scale":{"domain":[0.2436,0.4615]},"axis":null},"y":{"field":"v","type":"quantitative","scale":{"domain":[0,1500]},"axis":null}}},
 {"transform":[{"filter":"datum.k=='Eg'"}],"mark":{"type":"rule","color":"#1010ff","strokeWidth":2,"strokeDash":[2,2]},"encoding":{"x":{"field":"e","type":"quantitative","scale":{"domain":[0.2436,0.4615]},"axis":null}}},
 {"transform":[{"filter":"datum.k=='R'"}],"mark":{"type":"line","color":"#5ddc7b","strokeWidth":2,"interpolate":"monotone"},"encoding":{"x":{"field":"e","type":"quantitative","scale":{"domain":[0.2436,0.4615]},"axis":null},"y":{"field":"v","type":"quantitative","scale":{"domain":[0,100]},"axis":null}}}
],"resolve":{"scale":{"y":"independent"},"axis":{"x":"independent"}}},
{"width":119.5,"height":105.8,"data":{"name":"c"},"transform":[{"filter":"datum.w==0.05 && datum.d==12"}],"layer":[
 {"transform":[{"filter":"datum.k=='TM'"}],"mark":{"type":"area","color":"#fa6a5e","interpolate":"monotone"},"encoding":{"x":{"field":"e","type":"quantitative","scale":{"domain":[0.2436,0.4615]},"axis":{"orient":"bottom","values":[0.26,0.28,0.3,0.32,0.34,0.36,0.38,0.4,0.42,0.44,0.46],"labels":false,"title":null}},"y":{"field":"v","type":"quantitative","scale":{"domain":[0,1500]},"axis":null}}},
 {"transform":[{"filter":"datum.k=='TE'"}],"mark":{"type":"area","color":"#fc9b35","interpolate":"monotone"},"encoding":{"x":{"field":"e","type":"quantitative","scale":{"domain":[0.2436,0.4615]},"axis":{"orient":"top","values":[0.26,0.28,0.3,0.32,0.34,0.36,0.38,0.4,0.42,0.44,0.46],"labels":false,"title":null}},"y":{"field":"v","type":"quantitative","scale":{"domain":[0,1500]},"axis":null}}},
 {"transform":[{"filter":"datum.k=='TM'"}],"mark":{"type":"line","color":"black","strokeWidth":1.3,"strokeDash":[4,2.5],"interpolate":"monotone"},"encoding":{"x":{"field":"e","type":"quantitative","scale":{"domain":[0.2436,0.4615]},"axis":null},"y":{"field":"v","type":"quantitative","scale":{"domain":[0,1500]},"axis":null}}},
 {"transform":[{"filter":"datum.k=='TE'"}],"mark":{"type":"line","color":"black","strokeWidth":1.3,"interpolate":"monotone"},"encoding":{"x":{"field":"e","type":"quantitative","scale":{"domain":[0.2436,0.4615]},"axis":null},"y":{"field":"v","type":"quantitative","scale":{"domain":[0,1500]},"axis":null}}},
 {"transform":[{"filter":"datum.k=='Eg'"}],"mark":{"type":"rule","color":"#1010ff","strokeWidth":2,"strokeDash":[2,2]},"encoding":{"x":{"field":"e","type":"quantitative","scale":{"domain":[0.2436,0.4615]},"axis":null}}},
 {"transform":[{"filter":"datum.k=='R'"}],"mark":{"type":"line","color":"#5ddc7b","strokeWidth":2,"interpolate":"monotone"},"encoding":{"x":{"field":"e","type":"quantitative","scale":{"domain":[0.2436,0.4615]},"axis":null},"y":{"field":"v","type":"quantitative","scale":{"domain":[0,100]},"axis":null}}}
],"resolve":{"scale":{"y":"independent"},"axis":{"x":"independent"}}},
{"width":119.5,"height":105.8,"data":{"name":"c"},"transform":[{"filter":"datum.w==0.05 && datum.d==10"}],"layer":[
 {"transform":[{"filter":"datum.k=='TM'"}],"mark":{"type":"area","color":"#fa6a5e","interpolate":"monotone"},"encoding":{"x":{"field":"e","type":"quantitative","scale":{"domain":[0.2436,0.4615]},"axis":{"orient":"bottom","values":[0.26,0.28,0.3,0.32,0.34,0.36,0.38,0.4,0.42,0.44,0.46],"labels":false,"title":null}},"y":{"field":"v","type":"quantitative","scale":{"domain":[0,1500]},"axis":null}}},
 {"transform":[{"filter":"datum.k=='TE'"}],"mark":{"type":"area","color":"#fc9b35","interpolate":"monotone"},"encoding":{"x":{"field":"e","type":"quantitative","scale":{"domain":[0.2436,0.4615]},"axis":{"orient":"top","values":[0.26,0.28,0.3,0.32,0.34,0.36,0.38,0.4,0.42,0.44,0.46],"labels":false,"title":null}},"y":{"field":"v","type":"quantitative","scale":{"domain":[0,1500]},"axis":null}}},
 {"transform":[{"filter":"datum.k=='TM'"}],"mark":{"type":"line","color":"black","strokeWidth":1.3,"strokeDash":[4,2.5],"interpolate":"monotone"},"encoding":{"x":{"field":"e","type":"quantitative","scale":{"domain":[0.2436,0.4615]},"axis":null},"y":{"field":"v","type":"quantitative","scale":{"domain":[0,1500]},"axis":null}}},
 {"transform":[{"filter":"datum.k=='TE'"}],"mark":{"type":"line","color":"black","strokeWidth":1.3,"interpolate":"monotone"},"encoding":{"x":{"field":"e","type":"quantitative","scale":{"domain":[0.2436,0.4615]},"axis":null},"y":{"field":"v","type":"quantitative","scale":{"domain":[0,1500]},"axis":null}}},
 {"transform":[{"filter":"datum.k=='Eg'"}],"mark":{"type":"rule","color":"#1010ff","strokeWidth":2,"strokeDash":[2,2]},"encoding":{"x":{"field":"e","type":"quantitative","scale":{"domain":[0.2436,0.4615]},"axis":null}}},
 {"transform":[{"filter":"datum.k=='R'"}],"mark":{"type":"line","color":"#5ddc7b","strokeWidth":2,"interpolate":"monotone"},"encoding":{"x":{"field":"e","type":"quantitative","scale":{"domain":[0.2436,0.4615]},"axis":null},"y":{"field":"v","type":"quantitative","scale":{"domain":[0,100]},"axis":{"orient":"right","values":[0,12.5,25,37.5,50,62.5,75,87.5,100],"labelExpr":"datum.value%25==0&&datum.value>0?''+datum.value:''","title":null}}}}
],"resolve":{"scale":{"y":"independent"},"axis":{"x":"independent"}}},
{"width":119.5,"height":105.8,"view":{"stroke":null},"data":{"values":[{"t":"d = 8 nm"}]},"layer":[
 {"mark":{"type":"point","shape":"M -1 -0.4 L 1 -0.4 L 0 0.4 Z","size":4489,"filled":true,"color":"#a6e2f8","opacity":1,"strokeWidth":0,"yOffset":35}},
 {"mark":{"type":"text","baseline":"middle","dy":12,"fontSize":16},"encoding":{"text":{"field":"t"}}}
]},

{"width":135,"height":105.8,"view":{"stroke":null},"data":{"values":[{"t":"w = 0.070\nε = +1.2%"}]},"layer":[
 {"mark":{"type":"point","shape":"M -0.41 -1 L 0.41 0 L -0.41 1 Z","size":4356,"filled":true,"color":"#a6e2f8","opacity":1,"strokeWidth":0,"xOffset":19}},
 {"mark":{"type":"text","align":"left","baseline":"middle","dx":-67.5,"dy":-1.5,"fontSize":16,"lineBreak":"\n","lineHeight":22},"encoding":{"text":{"field":"t"}}}
]},
{"width":119.5,"height":105.8,"data":{"name":"c"},"transform":[{"filter":"datum.w==0.07 && datum.d==14"}],"layer":[
 {"transform":[{"filter":"datum.k=='TM'"}],"mark":{"type":"area","color":"#fa6a5e","interpolate":"monotone"},"encoding":{"x":{"field":"e","type":"quantitative","scale":{"domain":[0.2436,0.4615]},"axis":{"orient":"bottom","values":[0.26,0.28,0.3,0.32,0.34,0.36,0.38,0.4,0.42,0.44,0.46],"labels":false,"title":null}},"y":{"field":"v","type":"quantitative","scale":{"domain":[0,1500]},"axis":{"values":[0,250,500,750,1000,1250,1500],"labelExpr":"datum.value%500==0&&datum.value>0?''+datum.value:''","title":null}}}},
 {"transform":[{"filter":"datum.k=='TE'"}],"mark":{"type":"area","color":"#fc9b35","interpolate":"monotone"},"encoding":{"x":{"field":"e","type":"quantitative","scale":{"domain":[0.2436,0.4615]},"axis":{"orient":"top","values":[0.26,0.28,0.3,0.32,0.34,0.36,0.38,0.4,0.42,0.44,0.46],"labels":false,"title":null}},"y":{"field":"v","type":"quantitative","scale":{"domain":[0,1500]},"axis":null}}},
 {"transform":[{"filter":"datum.k=='TM'"}],"mark":{"type":"line","color":"black","strokeWidth":1.3,"strokeDash":[4,2.5],"interpolate":"monotone"},"encoding":{"x":{"field":"e","type":"quantitative","scale":{"domain":[0.2436,0.4615]},"axis":null},"y":{"field":"v","type":"quantitative","scale":{"domain":[0,1500]},"axis":null}}},
 {"transform":[{"filter":"datum.k=='TE'"}],"mark":{"type":"line","color":"black","strokeWidth":1.3,"interpolate":"monotone"},"encoding":{"x":{"field":"e","type":"quantitative","scale":{"domain":[0.2436,0.4615]},"axis":null},"y":{"field":"v","type":"quantitative","scale":{"domain":[0,1500]},"axis":null}}},
 {"transform":[{"filter":"datum.k=='Eg'"}],"mark":{"type":"rule","color":"#1010ff","strokeWidth":2,"strokeDash":[2,2]},"encoding":{"x":{"field":"e","type":"quantitative","scale":{"domain":[0.2436,0.4615]},"axis":null}}},
 {"transform":[{"filter":"datum.k=='R'"}],"mark":{"type":"line","color":"#5ddc7b","strokeWidth":2,"interpolate":"monotone"},"encoding":{"x":{"field":"e","type":"quantitative","scale":{"domain":[0.2436,0.4615]},"axis":null},"y":{"field":"v","type":"quantitative","scale":{"domain":[0,100]},"axis":null}}}
],"resolve":{"scale":{"y":"independent"},"axis":{"x":"independent"}}},
{"width":119.5,"height":105.8,"data":{"name":"c"},"transform":[{"filter":"datum.w==0.07 && datum.d==12"}],"layer":[
 {"transform":[{"filter":"datum.k=='TM'"}],"mark":{"type":"area","color":"#fa6a5e","interpolate":"monotone"},"encoding":{"x":{"field":"e","type":"quantitative","scale":{"domain":[0.2436,0.4615]},"axis":{"orient":"bottom","values":[0.26,0.28,0.3,0.32,0.34,0.36,0.38,0.4,0.42,0.44,0.46],"labels":false,"title":null}},"y":{"field":"v","type":"quantitative","scale":{"domain":[0,1500]},"axis":null}}},
 {"transform":[{"filter":"datum.k=='TE'"}],"mark":{"type":"area","color":"#fc9b35","interpolate":"monotone"},"encoding":{"x":{"field":"e","type":"quantitative","scale":{"domain":[0.2436,0.4615]},"axis":{"orient":"top","values":[0.26,0.28,0.3,0.32,0.34,0.36,0.38,0.4,0.42,0.44,0.46],"labels":false,"title":null}},"y":{"field":"v","type":"quantitative","scale":{"domain":[0,1500]},"axis":null}}},
 {"transform":[{"filter":"datum.k=='TM'"}],"mark":{"type":"line","color":"black","strokeWidth":1.3,"strokeDash":[4,2.5],"interpolate":"monotone"},"encoding":{"x":{"field":"e","type":"quantitative","scale":{"domain":[0.2436,0.4615]},"axis":null},"y":{"field":"v","type":"quantitative","scale":{"domain":[0,1500]},"axis":null}}},
 {"transform":[{"filter":"datum.k=='TE'"}],"mark":{"type":"line","color":"black","strokeWidth":1.3,"interpolate":"monotone"},"encoding":{"x":{"field":"e","type":"quantitative","scale":{"domain":[0.2436,0.4615]},"axis":null},"y":{"field":"v","type":"quantitative","scale":{"domain":[0,1500]},"axis":null}}},
 {"transform":[{"filter":"datum.k=='Eg'"}],"mark":{"type":"rule","color":"#1010ff","strokeWidth":2,"strokeDash":[2,2]},"encoding":{"x":{"field":"e","type":"quantitative","scale":{"domain":[0.2436,0.4615]},"axis":null}}},
 {"transform":[{"filter":"datum.k=='R'"}],"mark":{"type":"line","color":"#5ddc7b","strokeWidth":2,"interpolate":"monotone"},"encoding":{"x":{"field":"e","type":"quantitative","scale":{"domain":[0.2436,0.4615]},"axis":null},"y":{"field":"v","type":"quantitative","scale":{"domain":[0,100]},"axis":null}}}
],"resolve":{"scale":{"y":"independent"},"axis":{"x":"independent"}}},
{"width":119.5,"height":105.8,"data":{"name":"c"},"transform":[{"filter":"datum.w==0.07 && datum.d==10"}],"layer":[
 {"transform":[{"filter":"datum.k=='TM'"}],"mark":{"type":"area","color":"#fa6a5e","interpolate":"monotone"},"encoding":{"x":{"field":"e","type":"quantitative","scale":{"domain":[0.2436,0.4615]},"axis":{"orient":"bottom","values":[0.26,0.28,0.3,0.32,0.34,0.36,0.38,0.4,0.42,0.44,0.46],"labels":false,"title":null}},"y":{"field":"v","type":"quantitative","scale":{"domain":[0,1500]},"axis":null}}},
 {"transform":[{"filter":"datum.k=='TE'"}],"mark":{"type":"area","color":"#fc9b35","interpolate":"monotone"},"encoding":{"x":{"field":"e","type":"quantitative","scale":{"domain":[0.2436,0.4615]},"axis":{"orient":"top","values":[0.26,0.28,0.3,0.32,0.34,0.36,0.38,0.4,0.42,0.44,0.46],"labels":false,"title":null}},"y":{"field":"v","type":"quantitative","scale":{"domain":[0,1500]},"axis":null}}},
 {"transform":[{"filter":"datum.k=='TM'"}],"mark":{"type":"line","color":"black","strokeWidth":1.3,"strokeDash":[4,2.5],"interpolate":"monotone"},"encoding":{"x":{"field":"e","type":"quantitative","scale":{"domain":[0.2436,0.4615]},"axis":null},"y":{"field":"v","type":"quantitative","scale":{"domain":[0,1500]},"axis":null}}},
 {"transform":[{"filter":"datum.k=='TE'"}],"mark":{"type":"line","color":"black","strokeWidth":1.3,"interpolate":"monotone"},"encoding":{"x":{"field":"e","type":"quantitative","scale":{"domain":[0.2436,0.4615]},"axis":null},"y":{"field":"v","type":"quantitative","scale":{"domain":[0,1500]},"axis":null}}},
 {"transform":[{"filter":"datum.k=='Eg'"}],"mark":{"type":"rule","color":"#1010ff","strokeWidth":2,"strokeDash":[2,2]},"encoding":{"x":{"field":"e","type":"quantitative","scale":{"domain":[0.2436,0.4615]},"axis":null}}},
 {"transform":[{"filter":"datum.k=='R'"}],"mark":{"type":"line","color":"#5ddc7b","strokeWidth":2,"interpolate":"monotone"},"encoding":{"x":{"field":"e","type":"quantitative","scale":{"domain":[0.2436,0.4615]},"axis":null},"y":{"field":"v","type":"quantitative","scale":{"domain":[0,100]},"axis":null}}}
],"resolve":{"scale":{"y":"independent"},"axis":{"x":"independent"}}},
{"width":119.5,"height":105.8,"data":{"name":"c"},"transform":[{"filter":"datum.w==0.07 && datum.d==8"}],"layer":[
 {"transform":[{"filter":"datum.k=='TM'"}],"mark":{"type":"area","color":"#fa6a5e","interpolate":"monotone"},"encoding":{"x":{"field":"e","type":"quantitative","scale":{"domain":[0.2436,0.4615]},"axis":{"orient":"bottom","values":[0.26,0.28,0.3,0.32,0.34,0.36,0.38,0.4,0.42,0.44,0.46],"labels":false,"title":null}},"y":{"field":"v","type":"quantitative","scale":{"domain":[0,1500]},"axis":null}}},
 {"transform":[{"filter":"datum.k=='TE'"}],"mark":{"type":"area","color":"#fc9b35","interpolate":"monotone"},"encoding":{"x":{"field":"e","type":"quantitative","scale":{"domain":[0.2436,0.4615]},"axis":{"orient":"top","values":[0.26,0.28,0.3,0.32,0.34,0.36,0.38,0.4,0.42,0.44,0.46],"labels":false,"title":null}},"y":{"field":"v","type":"quantitative","scale":{"domain":[0,1500]},"axis":null}}},
 {"transform":[{"filter":"datum.k=='TM'"}],"mark":{"type":"line","color":"black","strokeWidth":1.3,"strokeDash":[4,2.5],"interpolate":"monotone"},"encoding":{"x":{"field":"e","type":"quantitative","scale":{"domain":[0.2436,0.4615]},"axis":null},"y":{"field":"v","type":"quantitative","scale":{"domain":[0,1500]},"axis":null}}},
 {"transform":[{"filter":"datum.k=='TE'"}],"mark":{"type":"line","color":"black","strokeWidth":1.3,"interpolate":"monotone"},"encoding":{"x":{"field":"e","type":"quantitative","scale":{"domain":[0.2436,0.4615]},"axis":null},"y":{"field":"v","type":"quantitative","scale":{"domain":[0,1500]},"axis":null}}},
 {"transform":[{"filter":"datum.k=='Eg'"}],"mark":{"type":"rule","color":"#1010ff","strokeWidth":2,"strokeDash":[2,2]},"encoding":{"x":{"field":"e","type":"quantitative","scale":{"domain":[0.2436,0.4615]},"axis":null}}},
 {"transform":[{"filter":"datum.k=='R'"}],"mark":{"type":"line","color":"#5ddc7b","strokeWidth":2,"interpolate":"monotone"},"encoding":{"x":{"field":"e","type":"quantitative","scale":{"domain":[0.2436,0.4615]},"axis":null},"y":{"field":"v","type":"quantitative","scale":{"domain":[0,100]},"axis":{"orient":"right","values":[0,12.5,25,37.5,50,62.5,75,87.5,100],"labelExpr":"datum.value%25==0&&datum.value>0?''+datum.value:''","title":null}}}}
],"resolve":{"scale":{"y":"independent"},"axis":{"x":"independent"}}},

{"width":135,"height":105.8,"view":{"stroke":null},"data":{"values":[{"t":"w = 0.090\nε = +0.9%"}]},"layer":[
 {"mark":{"type":"point","shape":"M -0.41 -1 L 0.41 0 L -0.41 1 Z","size":4356,"filled":true,"color":"#a6e2f8","opacity":1,"strokeWidth":0,"xOffset":19}},
 {"mark":{"type":"text","align":"left","baseline":"middle","dx":-67.5,"dy":-1.5,"fontSize":16,"lineBreak":"\n","lineHeight":22},"encoding":{"text":{"field":"t"}}}
]},
{"width":119.5,"height":105.8,"data":{"name":"c"},"transform":[{"filter":"datum.w==0.09 && datum.d==14"}],"layer":[
 {"transform":[{"filter":"datum.k=='TM'"}],"mark":{"type":"area","color":"#fa6a5e","interpolate":"monotone"},"encoding":{"x":{"field":"e","type":"quantitative","scale":{"domain":[0.2436,0.4615]},"axis":{"orient":"bottom","values":[0.26,0.28,0.3,0.32,0.34,0.36,0.38,0.4,0.42,0.44,0.46],"labels":false,"title":null}},"y":{"field":"v","type":"quantitative","scale":{"domain":[0,1500]},"axis":{"values":[0,250,500,750,1000,1250,1500],"labelExpr":"datum.value%500==0&&datum.value>0?''+datum.value:''","title":null}}}},
 {"transform":[{"filter":"datum.k=='TE'"}],"mark":{"type":"area","color":"#fc9b35","interpolate":"monotone"},"encoding":{"x":{"field":"e","type":"quantitative","scale":{"domain":[0.2436,0.4615]},"axis":{"orient":"top","values":[0.26,0.28,0.3,0.32,0.34,0.36,0.38,0.4,0.42,0.44,0.46],"labels":false,"title":null}},"y":{"field":"v","type":"quantitative","scale":{"domain":[0,1500]},"axis":null}}},
 {"transform":[{"filter":"datum.k=='TM'"}],"mark":{"type":"line","color":"black","strokeWidth":1.3,"strokeDash":[4,2.5],"interpolate":"monotone"},"encoding":{"x":{"field":"e","type":"quantitative","scale":{"domain":[0.2436,0.4615]},"axis":null},"y":{"field":"v","type":"quantitative","scale":{"domain":[0,1500]},"axis":null}}},
 {"transform":[{"filter":"datum.k=='TE'"}],"mark":{"type":"line","color":"black","strokeWidth":1.3,"interpolate":"monotone"},"encoding":{"x":{"field":"e","type":"quantitative","scale":{"domain":[0.2436,0.4615]},"axis":null},"y":{"field":"v","type":"quantitative","scale":{"domain":[0,1500]},"axis":null}}},
 {"transform":[{"filter":"datum.k=='Eg'"}],"mark":{"type":"rule","color":"#1010ff","strokeWidth":2,"strokeDash":[2,2]},"encoding":{"x":{"field":"e","type":"quantitative","scale":{"domain":[0.2436,0.4615]},"axis":null}}},
 {"transform":[{"filter":"datum.k=='R'"}],"mark":{"type":"line","color":"#5ddc7b","strokeWidth":2,"interpolate":"monotone"},"encoding":{"x":{"field":"e","type":"quantitative","scale":{"domain":[0.2436,0.4615]},"axis":null},"y":{"field":"v","type":"quantitative","scale":{"domain":[0,100]},"axis":null}}}
],"resolve":{"scale":{"y":"independent"},"axis":{"x":"independent"}}},
{"width":119.5,"height":105.8,"data":{"name":"c"},"transform":[{"filter":"datum.w==0.09 && datum.d==12"}],"layer":[
 {"transform":[{"filter":"datum.k=='TM'"}],"mark":{"type":"area","color":"#fa6a5e","interpolate":"monotone"},"encoding":{"x":{"field":"e","type":"quantitative","scale":{"domain":[0.2436,0.4615]},"axis":{"orient":"bottom","values":[0.26,0.28,0.3,0.32,0.34,0.36,0.38,0.4,0.42,0.44,0.46],"labels":false,"title":null}},"y":{"field":"v","type":"quantitative","scale":{"domain":[0,1500]},"axis":null}}},
 {"transform":[{"filter":"datum.k=='TE'"}],"mark":{"type":"area","color":"#fc9b35","interpolate":"monotone"},"encoding":{"x":{"field":"e","type":"quantitative","scale":{"domain":[0.2436,0.4615]},"axis":{"orient":"top","values":[0.26,0.28,0.3,0.32,0.34,0.36,0.38,0.4,0.42,0.44,0.46],"labels":false,"title":null}},"y":{"field":"v","type":"quantitative","scale":{"domain":[0,1500]},"axis":null}}},
 {"transform":[{"filter":"datum.k=='TM'"}],"mark":{"type":"line","color":"black","strokeWidth":1.3,"strokeDash":[4,2.5],"interpolate":"monotone"},"encoding":{"x":{"field":"e","type":"quantitative","scale":{"domain":[0.2436,0.4615]},"axis":null},"y":{"field":"v","type":"quantitative","scale":{"domain":[0,1500]},"axis":null}}},
 {"transform":[{"filter":"datum.k=='TE'"}],"mark":{"type":"line","color":"black","strokeWidth":1.3,"interpolate":"monotone"},"encoding":{"x":{"field":"e","type":"quantitative","scale":{"domain":[0.2436,0.4615]},"axis":null},"y":{"field":"v","type":"quantitative","scale":{"domain":[0,1500]},"axis":null}}},
 {"transform":[{"filter":"datum.k=='Eg'"}],"mark":{"type":"rule","color":"#1010ff","strokeWidth":2,"strokeDash":[2,2]},"encoding":{"x":{"field":"e","type":"quantitative","scale":{"domain":[0.2436,0.4615]},"axis":null}}},
 {"transform":[{"filter":"datum.k=='R'"}],"mark":{"type":"line","color":"#5ddc7b","strokeWidth":2,"interpolate":"monotone"},"encoding":{"x":{"field":"e","type":"quantitative","scale":{"domain":[0.2436,0.4615]},"axis":null},"y":{"field":"v","type":"quantitative","scale":{"domain":[0,100]},"axis":null}}}
],"resolve":{"scale":{"y":"independent"},"axis":{"x":"independent"}}},
{"width":119.5,"height":105.8,"data":{"name":"c"},"transform":[{"filter":"datum.w==0.09 && datum.d==10"}],"layer":[
 {"transform":[{"filter":"datum.k=='TM'"}],"mark":{"type":"area","color":"#fa6a5e","interpolate":"monotone"},"encoding":{"x":{"field":"e","type":"quantitative","scale":{"domain":[0.2436,0.4615]},"axis":{"orient":"bottom","values":[0.26,0.28,0.3,0.32,0.34,0.36,0.38,0.4,0.42,0.44,0.46],"labels":false,"title":null}},"y":{"field":"v","type":"quantitative","scale":{"domain":[0,1500]},"axis":null}}},
 {"transform":[{"filter":"datum.k=='TE'"}],"mark":{"type":"area","color":"#fc9b35","interpolate":"monotone"},"encoding":{"x":{"field":"e","type":"quantitative","scale":{"domain":[0.2436,0.4615]},"axis":{"orient":"top","values":[0.26,0.28,0.3,0.32,0.34,0.36,0.38,0.4,0.42,0.44,0.46],"labels":false,"title":null}},"y":{"field":"v","type":"quantitative","scale":{"domain":[0,1500]},"axis":null}}},
 {"transform":[{"filter":"datum.k=='TM'"}],"mark":{"type":"line","color":"black","strokeWidth":1.3,"strokeDash":[4,2.5],"interpolate":"monotone"},"encoding":{"x":{"field":"e","type":"quantitative","scale":{"domain":[0.2436,0.4615]},"axis":null},"y":{"field":"v","type":"quantitative","scale":{"domain":[0,1500]},"axis":null}}},
 {"transform":[{"filter":"datum.k=='TE'"}],"mark":{"type":"line","color":"black","strokeWidth":1.3,"interpolate":"monotone"},"encoding":{"x":{"field":"e","type":"quantitative","scale":{"domain":[0.2436,0.4615]},"axis":null},"y":{"field":"v","type":"quantitative","scale":{"domain":[0,1500]},"axis":null}}},
 {"transform":[{"filter":"datum.k=='Eg'"}],"mark":{"type":"rule","color":"#1010ff","strokeWidth":2,"strokeDash":[2,2]},"encoding":{"x":{"field":"e","type":"quantitative","scale":{"domain":[0.2436,0.4615]},"axis":null}}},
 {"transform":[{"filter":"datum.k=='R'"}],"mark":{"type":"line","color":"#5ddc7b","strokeWidth":2,"interpolate":"monotone"},"encoding":{"x":{"field":"e","type":"quantitative","scale":{"domain":[0.2436,0.4615]},"axis":null},"y":{"field":"v","type":"quantitative","scale":{"domain":[0,100]},"axis":null}}}
],"resolve":{"scale":{"y":"independent"},"axis":{"x":"independent"}}},
{"width":119.5,"height":105.8,"data":{"name":"c"},"transform":[{"filter":"datum.w==0.09 && datum.d==8"}],"layer":[
 {"transform":[{"filter":"datum.k=='TM'"}],"mark":{"type":"area","color":"#fa6a5e","interpolate":"monotone"},"encoding":{"x":{"field":"e","type":"quantitative","scale":{"domain":[0.2436,0.4615]},"axis":{"orient":"bottom","values":[0.26,0.28,0.3,0.32,0.34,0.36,0.38,0.4,0.42,0.44,0.46],"labels":false,"title":null}},"y":{"field":"v","type":"quantitative","scale":{"domain":[0,1500]},"axis":null}}},
 {"transform":[{"filter":"datum.k=='TE'"}],"mark":{"type":"area","color":"#fc9b35","interpolate":"monotone"},"encoding":{"x":{"field":"e","type":"quantitative","scale":{"domain":[0.2436,0.4615]},"axis":{"orient":"top","values":[0.26,0.28,0.3,0.32,0.34,0.36,0.38,0.4,0.42,0.44,0.46],"labels":false,"title":null}},"y":{"field":"v","type":"quantitative","scale":{"domain":[0,1500]},"axis":null}}},
 {"transform":[{"filter":"datum.k=='TM'"}],"mark":{"type":"line","color":"black","strokeWidth":1.3,"strokeDash":[4,2.5],"interpolate":"monotone"},"encoding":{"x":{"field":"e","type":"quantitative","scale":{"domain":[0.2436,0.4615]},"axis":null},"y":{"field":"v","type":"quantitative","scale":{"domain":[0,1500]},"axis":null}}},
 {"transform":[{"filter":"datum.k=='TE'"}],"mark":{"type":"line","color":"black","strokeWidth":1.3,"interpolate":"monotone"},"encoding":{"x":{"field":"e","type":"quantitative","scale":{"domain":[0.2436,0.4615]},"axis":null},"y":{"field":"v","type":"quantitative","scale":{"domain":[0,1500]},"axis":null}}},
 {"transform":[{"filter":"datum.k=='Eg'"}],"mark":{"type":"rule","color":"#1010ff","strokeWidth":2,"strokeDash":[2,2]},"encoding":{"x":{"field":"e","type":"quantitative","scale":{"domain":[0.2436,0.4615]},"axis":null}}},
 {"transform":[{"filter":"datum.k=='R'"}],"mark":{"type":"line","color":"#5ddc7b","strokeWidth":2,"interpolate":"monotone"},"encoding":{"x":{"field":"e","type":"quantitative","scale":{"domain":[0.2436,0.4615]},"axis":null},"y":{"field":"v","type":"quantitative","scale":{"domain":[0,100]},"axis":{"orient":"right","values":[0,12.5,25,37.5,50,62.5,75,87.5,100],"labelExpr":"datum.value%25==0&&datum.value>0?''+datum.value:''","title":"Relative material TM optical gain (%)","titleAngle":-90,"titleX":59,"titleY":30,"titleAlign":"center","titleBaseline":"middle","titleFontSize":20.5}}}}
],"resolve":{"scale":{"y":"independent"},"axis":{"x":"independent"}}},

{"width":135,"height":105.8,"view":{"stroke":null},"data":{"values":[{"t":"w = 0.110\nε = +0.6%"}]},"layer":[
 {"mark":{"type":"point","shape":"M -0.41 -1 L 0.41 0 L -0.41 1 Z","size":4356,"filled":true,"color":"#a6e2f8","opacity":1,"strokeWidth":0,"xOffset":19}},
 {"mark":{"type":"text","align":"left","baseline":"middle","dx":-67.5,"dy":-1.5,"fontSize":16,"lineBreak":"\n","lineHeight":22},"encoding":{"text":{"field":"t"}}}
]},
{"width":119.5,"height":105.8,"data":{"name":"c"},"transform":[{"filter":"datum.w==0.11 && datum.d==14"}],"layer":[
 {"transform":[{"filter":"datum.k=='TM'"}],"mark":{"type":"area","color":"#fa6a5e","interpolate":"monotone"},"encoding":{"x":{"field":"e","type":"quantitative","scale":{"domain":[0.2436,0.4615]},"axis":{"orient":"bottom","values":[0.26,0.28,0.3,0.32,0.34,0.36,0.38,0.4,0.42,0.44,0.46],"labels":false,"title":null}},"y":{"field":"v","type":"quantitative","scale":{"domain":[0,1500]},"axis":{"values":[0,250,500,750,1000,1250,1500],"labelExpr":"datum.value%500==0&&datum.value>0?''+datum.value:''","title":null}}}},
 {"transform":[{"filter":"datum.k=='TE'"}],"mark":{"type":"area","color":"#fc9b35","interpolate":"monotone"},"encoding":{"x":{"field":"e","type":"quantitative","scale":{"domain":[0.2436,0.4615]},"axis":{"orient":"top","values":[0.26,0.28,0.3,0.32,0.34,0.36,0.38,0.4,0.42,0.44,0.46],"labels":false,"title":null}},"y":{"field":"v","type":"quantitative","scale":{"domain":[0,1500]},"axis":null}}},
 {"transform":[{"filter":"datum.k=='TM'"}],"mark":{"type":"line","color":"black","strokeWidth":1.3,"strokeDash":[4,2.5],"interpolate":"monotone"},"encoding":{"x":{"field":"e","type":"quantitative","scale":{"domain":[0.2436,0.4615]},"axis":null},"y":{"field":"v","type":"quantitative","scale":{"domain":[0,1500]},"axis":null}}},
 {"transform":[{"filter":"datum.k=='TE'"}],"mark":{"type":"line","color":"black","strokeWidth":1.3,"interpolate":"monotone"},"encoding":{"x":{"field":"e","type":"quantitative","scale":{"domain":[0.2436,0.4615]},"axis":null},"y":{"field":"v","type":"quantitative","scale":{"domain":[0,1500]},"axis":null}}},
 {"transform":[{"filter":"datum.k=='Eg'"}],"mark":{"type":"rule","color":"#1010ff","strokeWidth":2,"strokeDash":[2,2]},"encoding":{"x":{"field":"e","type":"quantitative","scale":{"domain":[0.2436,0.4615]},"axis":null}}},
 {"transform":[{"filter":"datum.k=='R'"}],"mark":{"type":"line","color":"#5ddc7b","strokeWidth":2,"interpolate":"monotone"},"encoding":{"x":{"field":"e","type":"quantitative","scale":{"domain":[0.2436,0.4615]},"axis":null},"y":{"field":"v","type":"quantitative","scale":{"domain":[0,100]},"axis":null}}}
],"resolve":{"scale":{"y":"independent"},"axis":{"x":"independent"}}},
{"width":119.5,"height":105.8,"data":{"name":"c"},"transform":[{"filter":"datum.w==0.11 && datum.d==12"}],"layer":[
 {"transform":[{"filter":"datum.k=='TM'"}],"mark":{"type":"area","color":"#fa6a5e","interpolate":"monotone"},"encoding":{"x":{"field":"e","type":"quantitative","scale":{"domain":[0.2436,0.4615]},"axis":{"orient":"bottom","values":[0.26,0.28,0.3,0.32,0.34,0.36,0.38,0.4,0.42,0.44,0.46],"labels":false,"title":null}},"y":{"field":"v","type":"quantitative","scale":{"domain":[0,1500]},"axis":null}}},
 {"transform":[{"filter":"datum.k=='TE'"}],"mark":{"type":"area","color":"#fc9b35","interpolate":"monotone"},"encoding":{"x":{"field":"e","type":"quantitative","scale":{"domain":[0.2436,0.4615]},"axis":{"orient":"top","values":[0.26,0.28,0.3,0.32,0.34,0.36,0.38,0.4,0.42,0.44,0.46],"labels":false,"title":null}},"y":{"field":"v","type":"quantitative","scale":{"domain":[0,1500]},"axis":null}}},
 {"transform":[{"filter":"datum.k=='TM'"}],"mark":{"type":"line","color":"black","strokeWidth":1.3,"strokeDash":[4,2.5],"interpolate":"monotone"},"encoding":{"x":{"field":"e","type":"quantitative","scale":{"domain":[0.2436,0.4615]},"axis":null},"y":{"field":"v","type":"quantitative","scale":{"domain":[0,1500]},"axis":null}}},
 {"transform":[{"filter":"datum.k=='TE'"}],"mark":{"type":"line","color":"black","strokeWidth":1.3,"interpolate":"monotone"},"encoding":{"x":{"field":"e","type":"quantitative","scale":{"domain":[0.2436,0.4615]},"axis":null},"y":{"field":"v","type":"quantitative","scale":{"domain":[0,1500]},"axis":null}}},
 {"transform":[{"filter":"datum.k=='Eg'"}],"mark":{"type":"rule","color":"#1010ff","strokeWidth":2,"strokeDash":[2,2]},"encoding":{"x":{"field":"e","type":"quantitative","scale":{"domain":[0.2436,0.4615]},"axis":null}}},
 {"transform":[{"filter":"datum.k=='R'"}],"mark":{"type":"line","color":"#5ddc7b","strokeWidth":2,"interpolate":"monotone"},"encoding":{"x":{"field":"e","type":"quantitative","scale":{"domain":[0.2436,0.4615]},"axis":null},"y":{"field":"v","type":"quantitative","scale":{"domain":[0,100]},"axis":null}}}
],"resolve":{"scale":{"y":"independent"},"axis":{"x":"independent"}}},
{"width":119.5,"height":105.8,"data":{"name":"c"},"transform":[{"filter":"datum.w==0.11 && datum.d==10"}],"layer":[
 {"transform":[{"filter":"datum.k=='TM'"}],"mark":{"type":"area","color":"#fa6a5e","interpolate":"monotone"},"encoding":{"x":{"field":"e","type":"quantitative","scale":{"domain":[0.2436,0.4615]},"axis":{"orient":"bottom","values":[0.26,0.28,0.3,0.32,0.34,0.36,0.38,0.4,0.42,0.44,0.46],"labels":false,"title":null}},"y":{"field":"v","type":"quantitative","scale":{"domain":[0,1500]},"axis":null}}},
 {"transform":[{"filter":"datum.k=='TE'"}],"mark":{"type":"area","color":"#fc9b35","interpolate":"monotone"},"encoding":{"x":{"field":"e","type":"quantitative","scale":{"domain":[0.2436,0.4615]},"axis":{"orient":"top","values":[0.26,0.28,0.3,0.32,0.34,0.36,0.38,0.4,0.42,0.44,0.46],"labels":false,"title":null}},"y":{"field":"v","type":"quantitative","scale":{"domain":[0,1500]},"axis":null}}},
 {"transform":[{"filter":"datum.k=='TM'"}],"mark":{"type":"line","color":"black","strokeWidth":1.3,"strokeDash":[4,2.5],"interpolate":"monotone"},"encoding":{"x":{"field":"e","type":"quantitative","scale":{"domain":[0.2436,0.4615]},"axis":null},"y":{"field":"v","type":"quantitative","scale":{"domain":[0,1500]},"axis":null}}},
 {"transform":[{"filter":"datum.k=='TE'"}],"mark":{"type":"line","color":"black","strokeWidth":1.3,"interpolate":"monotone"},"encoding":{"x":{"field":"e","type":"quantitative","scale":{"domain":[0.2436,0.4615]},"axis":null},"y":{"field":"v","type":"quantitative","scale":{"domain":[0,1500]},"axis":null}}},
 {"transform":[{"filter":"datum.k=='Eg'"}],"mark":{"type":"rule","color":"#1010ff","strokeWidth":2,"strokeDash":[2,2]},"encoding":{"x":{"field":"e","type":"quantitative","scale":{"domain":[0.2436,0.4615]},"axis":null}}},
 {"transform":[{"filter":"datum.k=='R'"}],"mark":{"type":"line","color":"#5ddc7b","strokeWidth":2,"interpolate":"monotone"},"encoding":{"x":{"field":"e","type":"quantitative","scale":{"domain":[0.2436,0.4615]},"axis":null},"y":{"field":"v","type":"quantitative","scale":{"domain":[0,100]},"axis":null}}}
],"resolve":{"scale":{"y":"independent"},"axis":{"x":"independent"}}},
{"width":119.5,"height":105.8,"data":{"name":"c"},"transform":[{"filter":"datum.w==0.11 && datum.d==8"}],"layer":[
 {"transform":[{"filter":"datum.k=='TM'"}],"mark":{"type":"area","color":"#fa6a5e","interpolate":"monotone"},"encoding":{"x":{"field":"e","type":"quantitative","scale":{"domain":[0.2436,0.4615]},"axis":{"orient":"bottom","values":[0.26,0.28,0.3,0.32,0.34,0.36,0.38,0.4,0.42,0.44,0.46],"labels":false,"title":null}},"y":{"field":"v","type":"quantitative","scale":{"domain":[0,1500]},"axis":null}}},
 {"transform":[{"filter":"datum.k=='TE'"}],"mark":{"type":"area","color":"#fc9b35","interpolate":"monotone"},"encoding":{"x":{"field":"e","type":"quantitative","scale":{"domain":[0.2436,0.4615]},"axis":{"orient":"top","values":[0.26,0.28,0.3,0.32,0.34,0.36,0.38,0.4,0.42,0.44,0.46],"labels":false,"title":null}},"y":{"field":"v","type":"quantitative","scale":{"domain":[0,1500]},"axis":null}}},
 {"transform":[{"filter":"datum.k=='TM'"}],"mark":{"type":"line","color":"black","strokeWidth":1.3,"strokeDash":[4,2.5],"interpolate":"monotone"},"encoding":{"x":{"field":"e","type":"quantitative","scale":{"domain":[0.2436,0.4615]},"axis":null},"y":{"field":"v","type":"quantitative","scale":{"domain":[0,1500]},"axis":null}}},
 {"transform":[{"filter":"datum.k=='TE'"}],"mark":{"type":"line","color":"black","strokeWidth":1.3,"interpolate":"monotone"},"encoding":{"x":{"field":"e","type":"quantitative","scale":{"domain":[0.2436,0.4615]},"axis":null},"y":{"field":"v","type":"quantitative","scale":{"domain":[0,1500]},"axis":null}}},
 {"transform":[{"filter":"datum.k=='Eg'"}],"mark":{"type":"rule","color":"#1010ff","strokeWidth":2,"strokeDash":[2,2]},"encoding":{"x":{"field":"e","type":"quantitative","scale":{"domain":[0.2436,0.4615]},"axis":null}}},
 {"transform":[{"filter":"datum.k=='R'"}],"mark":{"type":"line","color":"#5ddc7b","strokeWidth":2,"interpolate":"monotone"},"encoding":{"x":{"field":"e","type":"quantitative","scale":{"domain":[0.2436,0.4615]},"axis":null},"y":{"field":"v","type":"quantitative","scale":{"domain":[0,100]},"axis":{"orient":"right","values":[0,12.5,25,37.5,50,62.5,75,87.5,100],"labelExpr":"datum.value%25==0&&datum.value>0?''+datum.value:''","title":null}}}}
],"resolve":{"scale":{"y":"independent"},"axis":{"x":"independent"}}},

{"width":135,"height":105.8,"view":{"stroke":null},"data":{"values":[{"t":"w = 0.130\nε = +0.3%"}]},"layer":[
 {"mark":{"type":"point","shape":"M -0.41 -1 L 0.41 0 L -0.41 1 Z","size":4356,"filled":true,"color":"#a6e2f8","opacity":1,"strokeWidth":0,"xOffset":19}},
 {"mark":{"type":"text","align":"left","baseline":"middle","dx":-67.5,"dy":-1.5,"fontSize":16,"lineBreak":"\n","lineHeight":22},"encoding":{"text":{"field":"t"}}}
]},
{"width":119.5,"height":105.8,"data":{"name":"c"},"transform":[{"filter":"datum.w==0.13 && datum.d==14"}],"layer":[
 {"transform":[{"filter":"datum.k=='TM'"}],"mark":{"type":"area","color":"#fa6a5e","interpolate":"monotone"},"encoding":{"x":{"field":"e","type":"quantitative","scale":{"domain":[0.2436,0.4615]},"axis":{"orient":"bottom","values":[0.26,0.28,0.3,0.32,0.34,0.36,0.38,0.4,0.42,0.44,0.46],"labelExpr":"datum.value==0.3?'0,3':datum.value==0.4?'0,4':''","title":null}},"y":{"field":"v","type":"quantitative","scale":{"domain":[0,1500]},"axis":{"values":[0,250,500,750,1000,1250,1500],"labelExpr":"datum.value%500==0?''+datum.value:''","title":"Material Optical Gain (1/cm)","titleAngle":-90,"titleX":-50.5,"titleY":-152,"titleAlign":"center","titleBaseline":"middle","titleFontSize":23.5}}}},
 {"transform":[{"filter":"datum.k=='TE'"}],"mark":{"type":"area","color":"#fc9b35","interpolate":"monotone"},"encoding":{"x":{"field":"e","type":"quantitative","scale":{"domain":[0.2436,0.4615]},"axis":{"orient":"top","values":[0.26,0.28,0.3,0.32,0.34,0.36,0.38,0.4,0.42,0.44,0.46],"labels":false,"title":null}},"y":{"field":"v","type":"quantitative","scale":{"domain":[0,1500]},"axis":null}}},
 {"transform":[{"filter":"datum.k=='TM'"}],"mark":{"type":"line","color":"black","strokeWidth":1.3,"strokeDash":[4,2.5],"interpolate":"monotone"},"encoding":{"x":{"field":"e","type":"quantitative","scale":{"domain":[0.2436,0.4615]},"axis":null},"y":{"field":"v","type":"quantitative","scale":{"domain":[0,1500]},"axis":null}}},
 {"transform":[{"filter":"datum.k=='TE'"}],"mark":{"type":"line","color":"black","strokeWidth":1.3,"interpolate":"monotone"},"encoding":{"x":{"field":"e","type":"quantitative","scale":{"domain":[0.2436,0.4615]},"axis":null},"y":{"field":"v","type":"quantitative","scale":{"domain":[0,1500]},"axis":null}}},
 {"transform":[{"filter":"datum.k=='Eg'"}],"mark":{"type":"rule","color":"#1010ff","strokeWidth":2,"strokeDash":[2,2]},"encoding":{"x":{"field":"e","type":"quantitative","scale":{"domain":[0.2436,0.4615]},"axis":null}}},
 {"transform":[{"filter":"datum.k=='R'"}],"mark":{"type":"line","color":"#5ddc7b","strokeWidth":2,"interpolate":"monotone"},"encoding":{"x":{"field":"e","type":"quantitative","scale":{"domain":[0.2436,0.4615]},"axis":null},"y":{"field":"v","type":"quantitative","scale":{"domain":[0,100]},"axis":null}}},
 {"transform":[{"filter":"datum.k=='A1'||datum.k=='A2'"}],"mark":{"type":"line","color":"black","strokeWidth":1.2,"interpolate":"monotone"},"encoding":{"x":{"field":"e","type":"quantitative","scale":{"domain":[0.2436,0.4615]},"axis":null},"y":{"field":"v","type":"quantitative","scale":{"domain":[0,1500]},"axis":null},"detail":{"field":"k"}}},
 {"transform":[{"filter":"datum.k=='AH'"}],"mark":{"type":"point","shape":"triangle-left","filled":true,"color":"black","size":45,"opacity":1},"encoding":{"x":{"field":"e","type":"quantitative","scale":{"domain":[0.2436,0.4615]},"axis":null},"y":{"field":"v","type":"quantitative","scale":{"domain":[0,1500]},"axis":null}}}
],"resolve":{"scale":{"y":"independent"},"axis":{"x":"independent"}}},
{"width":119.5,"height":105.8,"data":{"name":"c"},"transform":[{"filter":"datum.w==0.13 && datum.d==12"}],"layer":[
 {"transform":[{"filter":"datum.k=='TM'"}],"mark":{"type":"area","color":"#fa6a5e","interpolate":"monotone"},"encoding":{"x":{"field":"e","type":"quantitative","scale":{"domain":[0.2436,0.4615]},"axis":{"orient":"bottom","values":[0.26,0.28,0.3,0.32,0.34,0.36,0.38,0.4,0.42,0.44,0.46],"labelExpr":"datum.value==0.3?'0,3':datum.value==0.4?'0,4':''","title":"Photon Energy (eV)","titleX":121.5,"titleY":37,"titleAlign":"center","titleBaseline":"middle"}},"y":{"field":"v","type":"quantitative","scale":{"domain":[0,1500]},"axis":null}}},
 {"transform":[{"filter":"datum.k=='TE'"}],"mark":{"type":"area","color":"#fc9b35","interpolate":"monotone"},"encoding":{"x":{"field":"e","type":"quantitative","scale":{"domain":[0.2436,0.4615]},"axis":{"orient":"top","values":[0.26,0.28,0.3,0.32,0.34,0.36,0.38,0.4,0.42,0.44,0.46],"labels":false,"title":null}},"y":{"field":"v","type":"quantitative","scale":{"domain":[0,1500]},"axis":null}}},
 {"transform":[{"filter":"datum.k=='TM'"}],"mark":{"type":"line","color":"black","strokeWidth":1.3,"strokeDash":[4,2.5],"interpolate":"monotone"},"encoding":{"x":{"field":"e","type":"quantitative","scale":{"domain":[0.2436,0.4615]},"axis":null},"y":{"field":"v","type":"quantitative","scale":{"domain":[0,1500]},"axis":null}}},
 {"transform":[{"filter":"datum.k=='TE'"}],"mark":{"type":"line","color":"black","strokeWidth":1.3,"interpolate":"monotone"},"encoding":{"x":{"field":"e","type":"quantitative","scale":{"domain":[0.2436,0.4615]},"axis":null},"y":{"field":"v","type":"quantitative","scale":{"domain":[0,1500]},"axis":null}}},
 {"transform":[{"filter":"datum.k=='Eg'"}],"mark":{"type":"rule","color":"#1010ff","strokeWidth":2,"strokeDash":[2,2]},"encoding":{"x":{"field":"e","type":"quantitative","scale":{"domain":[0.2436,0.4615]},"axis":null}}},
 {"transform":[{"filter":"datum.k=='R'"}],"mark":{"type":"line","color":"#5ddc7b","strokeWidth":2,"interpolate":"monotone"},"encoding":{"x":{"field":"e","type":"quantitative","scale":{"domain":[0.2436,0.4615]},"axis":null},"y":{"field":"v","type":"quantitative","scale":{"domain":[0,100]},"axis":null}}}
],"resolve":{"scale":{"y":"independent"},"axis":{"x":"independent"}}},
{"width":119.5,"height":105.8,"data":{"name":"c"},"transform":[{"filter":"datum.w==0.13 && datum.d==10"}],"layer":[
 {"transform":[{"filter":"datum.k=='TM'"}],"mark":{"type":"area","color":"#fa6a5e","interpolate":"monotone"},"encoding":{"x":{"field":"e","type":"quantitative","scale":{"domain":[0.2436,0.4615]},"axis":{"orient":"bottom","values":[0.26,0.28,0.3,0.32,0.34,0.36,0.38,0.4,0.42,0.44,0.46],"labelExpr":"datum.value==0.3?'0,3':datum.value==0.4?'0,4':''","title":null}},"y":{"field":"v","type":"quantitative","scale":{"domain":[0,1500]},"axis":null}}},
 {"transform":[{"filter":"datum.k=='TE'"}],"mark":{"type":"area","color":"#fc9b35","interpolate":"monotone"},"encoding":{"x":{"field":"e","type":"quantitative","scale":{"domain":[0.2436,0.4615]},"axis":{"orient":"top","values":[0.26,0.28,0.3,0.32,0.34,0.36,0.38,0.4,0.42,0.44,0.46],"labels":false,"title":null}},"y":{"field":"v","type":"quantitative","scale":{"domain":[0,1500]},"axis":null}}},
 {"transform":[{"filter":"datum.k=='TM'"}],"mark":{"type":"line","color":"black","strokeWidth":1.3,"strokeDash":[4,2.5],"interpolate":"monotone"},"encoding":{"x":{"field":"e","type":"quantitative","scale":{"domain":[0.2436,0.4615]},"axis":null},"y":{"field":"v","type":"quantitative","scale":{"domain":[0,1500]},"axis":null}}},
 {"transform":[{"filter":"datum.k=='TE'"}],"mark":{"type":"line","color":"black","strokeWidth":1.3,"interpolate":"monotone"},"encoding":{"x":{"field":"e","type":"quantitative","scale":{"domain":[0.2436,0.4615]},"axis":null},"y":{"field":"v","type":"quantitative","scale":{"domain":[0,1500]},"axis":null}}},
 {"transform":[{"filter":"datum.k=='Eg'"}],"mark":{"type":"rule","color":"#1010ff","strokeWidth":2,"strokeDash":[2,2]},"encoding":{"x":{"field":"e","type":"quantitative","scale":{"domain":[0.2436,0.4615]},"axis":null}}},
 {"transform":[{"filter":"datum.k=='R'"}],"mark":{"type":"line","color":"#5ddc7b","strokeWidth":2,"interpolate":"monotone"},"encoding":{"x":{"field":"e","type":"quantitative","scale":{"domain":[0.2436,0.4615]},"axis":null},"y":{"field":"v","type":"quantitative","scale":{"domain":[0,100]},"axis":null}}}
],"resolve":{"scale":{"y":"independent"},"axis":{"x":"independent"}}},
{"width":119.5,"height":105.8,"data":{"name":"c"},"transform":[{"filter":"datum.w==0.13 && datum.d==8"}],"layer":[
 {"transform":[{"filter":"datum.k=='TM'"}],"mark":{"type":"area","color":"#fa6a5e","interpolate":"monotone"},"encoding":{"x":{"field":"e","type":"quantitative","scale":{"domain":[0.2436,0.4615]},"axis":{"orient":"bottom","values":[0.26,0.28,0.3,0.32,0.34,0.36,0.38,0.4,0.42,0.44,0.46],"labelExpr":"datum.value==0.3?'0,3':datum.value==0.4?'0,4':''","title":null}},"y":{"field":"v","type":"quantitative","scale":{"domain":[0,1500]},"axis":null}}},
 {"transform":[{"filter":"datum.k=='TE'"}],"mark":{"type":"area","color":"#fc9b35","interpolate":"monotone"},"encoding":{"x":{"field":"e","type":"quantitative","scale":{"domain":[0.2436,0.4615]},"axis":{"orient":"top","values":[0.26,0.28,0.3,0.32,0.34,0.36,0.38,0.4,0.42,0.44,0.46],"labels":false,"title":null}},"y":{"field":"v","type":"quantitative","scale":{"domain":[0,1500]},"axis":null}}},
 {"transform":[{"filter":"datum.k=='TM'"}],"mark":{"type":"line","color":"black","strokeWidth":1.3,"strokeDash":[4,2.5],"interpolate":"monotone"},"encoding":{"x":{"field":"e","type":"quantitative","scale":{"domain":[0.2436,0.4615]},"axis":null},"y":{"field":"v","type":"quantitative","scale":{"domain":[0,1500]},"axis":null}}},
 {"transform":[{"filter":"datum.k=='TE'"}],"mark":{"type":"line","color":"black","strokeWidth":1.3,"interpolate":"monotone"},"encoding":{"x":{"field":"e","type":"quantitative","scale":{"domain":[0.2436,0.4615]},"axis":null},"y":{"field":"v","type":"quantitative","scale":{"domain":[0,1500]},"axis":null}}},
 {"transform":[{"filter":"datum.k=='Eg'"}],"mark":{"type":"rule","color":"#1010ff","strokeWidth":2,"strokeDash":[2,2]},"encoding":{"x":{"field":"e","type":"quantitative","scale":{"domain":[0.2436,0.4615]},"axis":null}}},
 {"transform":[{"filter":"datum.k=='R'"}],"mark":{"type":"line","color":"#5ddc7b","strokeWidth":2,"interpolate":"monotone"},"encoding":{"x":{"field":"e","type":"quantitative","scale":{"domain":[0.2436,0.4615]},"axis":null},"y":{"field":"v","type":"quantitative","scale":{"domain":[0,100]},"axis":{"orient":"right","values":[0,12.5,25,37.5,50,62.5,75,87.5,100],"labelExpr":"datum.value%25==0?''+datum.value:''","title":null}}}},
 {"transform":[{"filter":"datum.k=='GA'"}],"mark":{"type":"line","color":"#5ddc7b","strokeWidth":2,"interpolate":"monotone"},"encoding":{"x":{"field":"e","type":"quantitative","scale":{"domain":[0.2436,0.4615]},"axis":null},"y":{"field":"v","type":"quantitative","scale":{"domain":[0,100]},"axis":null}}},
 {"transform":[{"filter":"datum.k=='GH'"}],"mark":{"type":"point","shape":"triangle-right","filled":true,"color":"#5ddc7b","size":60,"opacity":1},"encoding":{"x":{"field":"e","type":"quantitative","scale":{"domain":[0.2436,0.4615]},"axis":null},"y":{"field":"v","type":"quantitative","scale":{"domain":[0,100]},"axis":null}}}
],"resolve":{"scale":{"y":"independent"},"axis":{"x":"independent"}}}
]
}
